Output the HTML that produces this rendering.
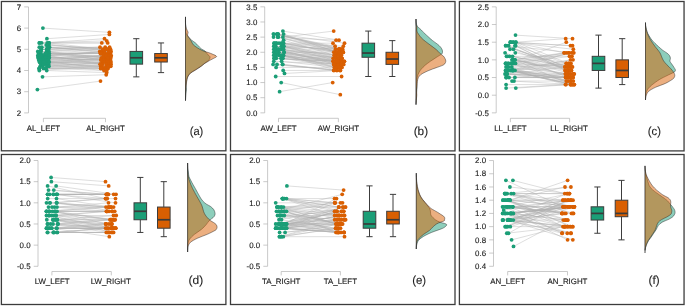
<!DOCTYPE html>
<html><head><meta charset="utf-8"><title>Raincloud plots</title>
<style>html,body{margin:0;padding:0;background:#fff}svg{display:block}svg{filter:opacity(0.9999)}text{text-rendering:geometricPrecision}.t{font-family:"Liberation Sans",sans-serif;font-size:7.9px;fill:#222;stroke:#222;stroke-width:0.13px}.L{font-family:"Liberation Sans",sans-serif;font-size:11.6px;fill:#1e1e1e;stroke:#1e1e1e;stroke-width:0.1px}</style></head><body>
<svg width="685" height="306" viewBox="0 0 685 306">
<rect width="685" height="306" fill="#fff"/>
<rect x="1.4" y="1.5" width="224.5" height="149.3" fill="#fff" stroke="#3c3c3c" stroke-width="1.3"/>
<path d="M28.5 6.9V112.9M24.2 6.9H28.5M24.2 28.1H28.5M24.2 49.3H28.5M24.2 70.5H28.5M24.2 91.7H28.5M24.2 112.9H28.5M43.4 122.2V118.3H105.5V122.2" fill="none" stroke="#adadad" stroke-width="0.65"/>
<text x="21.1" y="9.6" text-anchor="end" class="t">7</text>
<text x="21.1" y="30.8" text-anchor="end" class="t">6</text>
<text x="21.1" y="52" text-anchor="end" class="t">5</text>
<text x="21.1" y="73.2" text-anchor="end" class="t">4</text>
<text x="21.1" y="94.4" text-anchor="end" class="t">3</text>
<text x="21.1" y="115.6" text-anchor="end" class="t">2</text>
<text x="43.4" y="131.15" text-anchor="middle" class="t">AL_LEFT</text>
<text x="105.5" y="131.15" text-anchor="middle" class="t">AL_RIGHT</text>
<text x="189.7" y="134.6" textLength="13.6" lengthAdjust="spacingAndGlyphs" class="L">(a)</text>
<path d="M37.4 89.58L100.5 81.1M42.5 76.86L106.2 74.74M42.9 28.1L109.4 32.34M46.9 38.7L109.4 34.46M46.7 70.5L106.7 72.62M39.3 70.5L102 66.26M43.5 68.38L100.8 68.38M46 68.38L106.7 70.5M39.3 68.38L108.5 66.26M39.3 68.38L102.5 64.14M39.3 68.38L103 68.38M47 66.26L100.8 68.38M42.7 66.26L109.5 62.02M49 66.26L104.5 62.02M40.2 66.26L106 66.26M46 64.14L108.76 66.26M41 64.14L104 70.5M43.5 64.14L110.8 57.78M48.5 64.14L108 68.38M43.49 64.14L106 59.9M39.5 62.02L102.2 62.02M44.19 62.02L101.3 57.78M44.5 62.02L108.5 57.78M47 62.02L111 64.14M42.76 62.02L100.8 66.26M39.5 62.02L111 62.02M49.2 62.02L105.5 68.38M42 62.02L110.8 66.26M38.7 59.9L111.2 55.66M48.5 59.9L103.5 59.9M41 59.9L106.5 64.14M43.5 59.9L107.2 59.9M46 59.9L110.5 55.66M48 57.78L100.3 64.14M45.5 57.78L101 59.9M38 57.78L107.75 57.78M40.5 57.78L108.5 59.9M43 57.78L106.02 55.66M49.3 57.78L105.5 55.66M40.2 55.66L108 55.66M42.6 55.66L109 64.14M45 55.66L104.5 51.42M49.2 55.66L100.3 64.14M37.8 55.66L111.1 51.42M40.77 55.66L107 62.02M47.4 55.66L109.26 51.42M45.87 53.54L100.5 53.54M49.3 53.54L108 53.54M41 53.54L100.5 53.54M38.5 53.54L110.5 59.9M47.5 53.54L103.5 57.78M45 53.54L103.2 55.66M40.3 51.42L107.5 49.3M46.7 51.42L101 59.9M37.8 51.42L103 53.54M49 51.42L104.7 57.78M40.93 51.42L106 57.78M48.6 49.3L107.08 49.3M46.5 49.3L100 47.18M41.3 49.3L105.2 47.18M41.3 49.3L105.5 53.54M49.5 47.18L110.5 53.54M48.07 47.18L106.83 49.3M41.8 47.18L99.8 51.42M39.3 47.18L109.6 47.18M47.6 47.18L101.9 51.42M49 45.06L103.33 49.3M46.2 45.06L110.5 49.3M49.1 42.94L102.8 49.3M39.3 42.94L109 51.42M41.6 42.94L104.5 38.7M39.54 42.94L106.7 40.82M49.1 42.94L101.8 42.94M47.2 42.94L107.7 42.94" fill="none" stroke="#b0b0b0" stroke-width="0.42"/>
<g fill="#1b9e77"><circle cx="42.9" cy="28.1" r="1.9"/><circle cx="46.9" cy="38.7" r="1.9"/><circle cx="39.3" cy="42.94" r="1.9"/><circle cx="41.6" cy="42.94" r="1.9"/><circle cx="47.2" cy="42.94" r="1.9"/><circle cx="49.1" cy="42.94" r="1.9"/><circle cx="46.2" cy="45.06" r="1.9"/><circle cx="49" cy="45.06" r="1.9"/><circle cx="39.3" cy="47.18" r="1.9"/><circle cx="41.8" cy="47.18" r="1.9"/><circle cx="47.6" cy="47.18" r="1.9"/><circle cx="49.5" cy="47.18" r="1.9"/><circle cx="41.3" cy="49.3" r="1.9"/><circle cx="46.5" cy="49.3" r="1.9"/><circle cx="48.6" cy="49.3" r="1.9"/><circle cx="37.8" cy="51.42" r="1.9"/><circle cx="40.3" cy="51.42" r="1.9"/><circle cx="46.7" cy="51.42" r="1.9"/><circle cx="49" cy="51.42" r="1.9"/><circle cx="38.5" cy="53.54" r="1.9"/><circle cx="41" cy="53.54" r="1.9"/><circle cx="45" cy="53.54" r="1.9"/><circle cx="47.5" cy="53.54" r="1.9"/><circle cx="49.3" cy="53.54" r="1.9"/><circle cx="37.8" cy="55.66" r="1.9"/><circle cx="40.2" cy="55.66" r="1.9"/><circle cx="42.6" cy="55.66" r="1.9"/><circle cx="45" cy="55.66" r="1.9"/><circle cx="47.4" cy="55.66" r="1.9"/><circle cx="49.2" cy="55.66" r="1.9"/><circle cx="38" cy="57.78" r="1.9"/><circle cx="40.5" cy="57.78" r="1.9"/><circle cx="43" cy="57.78" r="1.9"/><circle cx="45.5" cy="57.78" r="1.9"/><circle cx="48" cy="57.78" r="1.9"/><circle cx="49.3" cy="57.78" r="1.9"/><circle cx="38.7" cy="59.9" r="1.9"/><circle cx="41" cy="59.9" r="1.9"/><circle cx="43.5" cy="59.9" r="1.9"/><circle cx="46" cy="59.9" r="1.9"/><circle cx="48.5" cy="59.9" r="1.9"/><circle cx="39.5" cy="62.02" r="1.9"/><circle cx="42" cy="62.02" r="1.9"/><circle cx="44.5" cy="62.02" r="1.9"/><circle cx="47" cy="62.02" r="1.9"/><circle cx="49.2" cy="62.02" r="1.9"/><circle cx="41" cy="64.14" r="1.9"/><circle cx="43.5" cy="64.14" r="1.9"/><circle cx="46" cy="64.14" r="1.9"/><circle cx="48.5" cy="64.14" r="1.9"/><circle cx="40.2" cy="66.26" r="1.9"/><circle cx="42.7" cy="66.26" r="1.9"/><circle cx="47" cy="66.26" r="1.9"/><circle cx="49" cy="66.26" r="1.9"/><circle cx="39.3" cy="68.38" r="1.9"/><circle cx="43.5" cy="68.38" r="1.9"/><circle cx="46" cy="68.38" r="1.9"/><circle cx="39.3" cy="70.5" r="1.9"/><circle cx="46.7" cy="70.5" r="1.9"/><circle cx="42.5" cy="76.86" r="1.9"/><circle cx="37.4" cy="89.58" r="1.9"/><circle cx="42.76" cy="62.02" r="1.9"/><circle cx="41.3" cy="49.3" r="1.9"/><circle cx="39.5" cy="62.02" r="1.9"/><circle cx="39.54" cy="42.94" r="1.9"/><circle cx="45.87" cy="53.54" r="1.9"/><circle cx="43.49" cy="64.14" r="1.9"/><circle cx="39.3" cy="68.38" r="1.9"/><circle cx="44.19" cy="62.02" r="1.9"/><circle cx="40.77" cy="55.66" r="1.9"/><circle cx="49.1" cy="42.94" r="1.9"/><circle cx="48.07" cy="47.18" r="1.9"/><circle cx="40.93" cy="51.42" r="1.9"/><circle cx="39.3" cy="68.38" r="1.9"/></g>
<g fill="#d95f02"><circle cx="109.4" cy="32.34" r="1.9"/><circle cx="109.4" cy="34.46" r="1.9"/><circle cx="104.5" cy="38.7" r="1.9"/><circle cx="106.7" cy="40.82" r="1.9"/><circle cx="101.8" cy="42.94" r="1.9"/><circle cx="107.7" cy="42.94" r="1.9"/><circle cx="100" cy="47.18" r="1.9"/><circle cx="105.2" cy="47.18" r="1.9"/><circle cx="109.6" cy="47.18" r="1.9"/><circle cx="102.8" cy="49.3" r="1.9"/><circle cx="107.5" cy="49.3" r="1.9"/><circle cx="110.5" cy="49.3" r="1.9"/><circle cx="99.8" cy="51.42" r="1.9"/><circle cx="101.9" cy="51.42" r="1.9"/><circle cx="104.5" cy="51.42" r="1.9"/><circle cx="109" cy="51.42" r="1.9"/><circle cx="111.1" cy="51.42" r="1.9"/><circle cx="100.5" cy="53.54" r="1.9"/><circle cx="103" cy="53.54" r="1.9"/><circle cx="105.5" cy="53.54" r="1.9"/><circle cx="108" cy="53.54" r="1.9"/><circle cx="110.5" cy="53.54" r="1.9"/><circle cx="103.2" cy="55.66" r="1.9"/><circle cx="105.5" cy="55.66" r="1.9"/><circle cx="108" cy="55.66" r="1.9"/><circle cx="110.5" cy="55.66" r="1.9"/><circle cx="111.2" cy="55.66" r="1.9"/><circle cx="101.3" cy="57.78" r="1.9"/><circle cx="103.5" cy="57.78" r="1.9"/><circle cx="106" cy="57.78" r="1.9"/><circle cx="108.5" cy="57.78" r="1.9"/><circle cx="110.8" cy="57.78" r="1.9"/><circle cx="104.7" cy="57.78" r="1.9"/><circle cx="101" cy="59.9" r="1.9"/><circle cx="103.5" cy="59.9" r="1.9"/><circle cx="106" cy="59.9" r="1.9"/><circle cx="108.5" cy="59.9" r="1.9"/><circle cx="110.5" cy="59.9" r="1.9"/><circle cx="107.2" cy="59.9" r="1.9"/><circle cx="102.2" cy="62.02" r="1.9"/><circle cx="104.5" cy="62.02" r="1.9"/><circle cx="107" cy="62.02" r="1.9"/><circle cx="109.5" cy="62.02" r="1.9"/><circle cx="111" cy="62.02" r="1.9"/><circle cx="100.3" cy="64.14" r="1.9"/><circle cx="102.5" cy="64.14" r="1.9"/><circle cx="106.5" cy="64.14" r="1.9"/><circle cx="109" cy="64.14" r="1.9"/><circle cx="111" cy="64.14" r="1.9"/><circle cx="100.8" cy="66.26" r="1.9"/><circle cx="102" cy="66.26" r="1.9"/><circle cx="106" cy="66.26" r="1.9"/><circle cx="108.5" cy="66.26" r="1.9"/><circle cx="110.8" cy="66.26" r="1.9"/><circle cx="100.8" cy="68.38" r="1.9"/><circle cx="103" cy="68.38" r="1.9"/><circle cx="105.5" cy="68.38" r="1.9"/><circle cx="108" cy="68.38" r="1.9"/><circle cx="104" cy="70.5" r="1.9"/><circle cx="106.7" cy="70.5" r="1.9"/><circle cx="106.7" cy="72.62" r="1.9"/><circle cx="106.2" cy="74.74" r="1.9"/><circle cx="100.5" cy="81.1" r="1.9"/><circle cx="103.33" cy="49.3" r="1.9"/><circle cx="100.8" cy="68.38" r="1.9"/><circle cx="106.02" cy="55.66" r="1.9"/><circle cx="107.75" cy="57.78" r="1.9"/><circle cx="109.26" cy="51.42" r="1.9"/><circle cx="107.08" cy="49.3" r="1.9"/><circle cx="100.3" cy="64.14" r="1.9"/><circle cx="101" cy="59.9" r="1.9"/><circle cx="106.83" cy="49.3" r="1.9"/><circle cx="108.76" cy="66.26" r="1.9"/><circle cx="100.5" cy="53.54" r="1.9"/></g>
<path d="M136.3 38.7V51.42M136.3 64.14V76.86M133.2 38.7H139.4M133.2 76.86H139.4" fill="none" stroke="#3c3c3c" stroke-width="1"/>
<rect x="130" y="51.42" width="12.6" height="12.72" fill="#1b9e77" stroke="#3c3c3c" stroke-width="1"/>
<path d="M130 57.78H142.6" stroke="#3a3a3a" stroke-width="1.7" fill="none"/>
<path d="M161 42.94V53.54M161 62.02V72.62M157.9 42.94H164.1M157.9 72.62H164.1" fill="none" stroke="#3c3c3c" stroke-width="1"/>
<rect x="154.7" y="53.54" width="12.6" height="8.48" fill="#d95f02" stroke="#3c3c3c" stroke-width="1"/>
<path d="M154.7 57.78H167.3" stroke="#3a3a3a" stroke-width="1.7" fill="none"/>
<path d="M185.5 16.9C185.52 18.08 185.52 22.15 185.6 24C185.68 25.85 185.97 26.83 186 28C186.03 29.17 185.73 30 185.8 31C185.87 32 185.97 33.02 186.4 34C186.83 34.98 187.58 35.92 188.4 36.9C189.22 37.88 190.15 38.92 191.3 39.9C192.45 40.88 194.15 41.83 195.3 42.8C196.45 43.77 197.23 44.72 198.2 45.7C199.17 46.68 199.95 47.8 201.1 48.7C202.25 49.6 204.13 50.28 205.1 51.1C206.07 51.92 206.25 52.87 206.9 53.6C207.55 54.33 208.47 54.93 209 55.5C209.53 56.07 210 56.45 210.1 57C210.2 57.55 209.87 58.22 209.6 58.8C209.33 59.38 209.27 59.8 208.5 60.5C207.73 61.2 206.28 62.03 205 63C203.72 63.97 202.47 65.13 200.8 66.3C199.13 67.47 196.73 68.9 195 70C193.27 71.1 191.57 71.9 190.4 72.9C189.23 73.9 188.6 74.92 188 76C187.4 77.08 187.12 77.9 186.8 79.4C186.48 80.9 186.17 83.32 186.1 85C186.03 86.68 186.43 88 186.4 89.5C186.37 91 186.05 92.15 185.9 94C185.75 95.85 185.57 99.5 185.5 100.6L185.5 16.9Z" fill="#1b9e77" fill-opacity="0.5" stroke="#222" stroke-width="0.5" stroke-opacity="0.9"/>
<path d="M185.5 16.9C185.5 18.08 185.37 22.07 185.5 24C185.63 25.93 185.87 27.13 186.3 28.5C186.73 29.87 187.9 31.12 188.1 32.2C188.3 33.28 187.43 34.2 187.5 35C187.57 35.8 188.1 36.35 188.5 37C188.9 37.65 189.38 38.1 189.9 38.9C190.42 39.7 191.03 40.82 191.6 41.8C192.17 42.78 192.37 43.82 193.3 44.8C194.23 45.78 195.82 46.8 197.2 47.7C198.58 48.6 200.28 49.55 201.6 50.2C202.92 50.85 203.95 51.2 205.1 51.6C206.25 52 207.28 52.18 208.5 52.6C209.72 53.02 211.05 53.47 212.4 54.1C213.75 54.73 216.43 55.67 216.6 56.4C216.77 57.13 214.42 57.9 213.4 58.5C212.38 59.1 211.4 59.5 210.5 60C209.6 60.5 208.98 60.92 208 61.5C207.02 62.08 205.73 62.7 204.6 63.5C203.47 64.3 202.7 65.22 201.2 66.3C199.7 67.38 197.32 68.9 195.6 70C193.88 71.1 192.13 71.9 190.9 72.9C189.67 73.9 188.87 74.82 188.2 76C187.53 77.18 187.2 78.67 186.9 80C186.6 81.33 186.58 82.33 186.4 84C186.22 85.67 185.95 87.23 185.8 90C185.65 92.77 185.55 98.83 185.5 100.6L185.5 16.9Z" fill="#d95f02" fill-opacity="0.5" stroke="#222" stroke-width="0.5" stroke-opacity="0.9"/>
<rect x="230.5" y="1.5" width="224.5" height="149.4" fill="#fff" stroke="#3c3c3c" stroke-width="1.3"/>
<path d="M264.7 6.83V112.85M260.4 6.83H264.7M260.4 21.98H264.7M260.4 37.12H264.7M260.4 52.27H264.7M260.4 67.41H264.7M260.4 82.56H264.7M260.4 97.7H264.7M260.4 112.85H264.7M278.5 122.2V118.3H338.4V122.2" fill="none" stroke="#adadad" stroke-width="0.65"/>
<text x="257.3" y="9.53" text-anchor="end" class="t">3.5</text>
<text x="257.3" y="24.68" text-anchor="end" class="t">3.0</text>
<text x="257.3" y="39.83" text-anchor="end" class="t">2.5</text>
<text x="257.3" y="54.97" text-anchor="end" class="t">2.0</text>
<text x="257.3" y="70.11" text-anchor="end" class="t">1.5</text>
<text x="257.3" y="85.26" text-anchor="end" class="t">1.0</text>
<text x="257.3" y="100.41" text-anchor="end" class="t">0.5</text>
<text x="257.3" y="115.55" text-anchor="end" class="t">0.0</text>
<text x="278.5" y="131.15" text-anchor="middle" class="t">AW_LEFT</text>
<text x="338.4" y="131.15" text-anchor="middle" class="t">AW_RIGHT</text>
<text x="413.7" y="134.6" textLength="14.4" lengthAdjust="spacingAndGlyphs" class="L">(b)</text>
<path d="M279.6 91.65L332.7 82.56M281.2 82.56L340.3 94.68M275.7 76.5L341.6 76.5M282.9 37.12L333.7 31.07M284.5 73.47L339.85 70.44M283.2 70.44L333.8 70.44M276.1 67.41L339.34 67.41M282.53 64.39L340.3 70.44M282.7 64.39L333.8 70.44M273.1 64.39L340.3 70.44M277 64.39L337 70.44M273.8 61.36L341.44 64.39M281.6 61.36L336.8 67.41M274 58.33L335.5 61.36M281 58.33L338.5 64.39M274.24 58.33L333.2 61.36M276.3 58.33L338 61.36M283 58.33L339.3 67.41M278.8 55.3L342 67.41M276.3 55.3L333.2 61.36M280.8 55.3L335.66 61.36M281.3 55.3L341 64.39M274.56 55.3L333.8 64.39M273.8 55.3L344.3 61.36M283.6 55.3L333.2 58.33M283.06 55.3L334.3 67.41M274.28 55.3L333.8 64.39M278.6 52.27L336.3 67.41M278.36 52.27L337.54 61.36M276.7 52.27L338.78 61.36M276.3 52.27L336.65 70.44M284 52.27L342.8 61.36M284 52.27L338.2 58.33M278.67 52.27L343.07 52.27M273.8 52.27L340.5 61.36M276.94 52.27L342 58.33M273.8 49.24L337.83 64.39M278.8 49.24L340.7 58.33M275.54 49.24L338.89 58.33M276.3 49.24L343.7 64.39M278.07 49.24L336 64.39M276.22 49.24L341.4 55.3M283.6 49.24L344.3 61.36M281.3 49.24L336.8 55.3M275.8 46.21L334.3 55.3M283.6 46.21L335.7 58.33M283.53 46.21L337.96 61.36M274.47 46.21L339.5 49.24M274.42 46.21L342 58.33M273.8 46.21L339.5 52.27M283.6 46.21L338.8 49.24M281.3 46.21L339.3 55.3M282.22 43.18L342.05 49.24M274.3 43.18L333 43.18M276.5 43.18L341.58 58.33M274 43.18L343.19 52.27M281.5 43.18L342.7 52.27M283.6 43.18L333.8 52.27M276.1 43.18L343.3 46.21M279 43.18L343.2 52.27M283.6 40.15L334.38 55.3M273.5 37.12L336.1 40.15M277.66 37.12L342 52.27M277.95 37.12L336.3 52.27M278.3 37.12L339.04 49.24M283.6 34.1L337.05 52.27M277.63 34.1L344.5 43.18M277.4 34.1L339.34 49.24M277.74 34.1L339.26 52.27M278.24 34.1L342.6 49.24M273.5 34.1L335.1 46.21M273.5 34.1L341 49.24M276.58 34.1L335.5 49.24M282.9 31.07L339 40.15" fill="none" stroke="#b0b0b0" stroke-width="0.42"/>
<g fill="#1b9e77"><circle cx="279.6" cy="91.65" r="1.9"/><circle cx="281.2" cy="82.56" r="1.9"/><circle cx="275.7" cy="76.5" r="1.9"/><circle cx="284.5" cy="73.47" r="1.9"/><circle cx="283.2" cy="70.44" r="1.9"/><circle cx="276.1" cy="67.41" r="1.9"/><circle cx="273.1" cy="64.39" r="1.9"/><circle cx="277" cy="64.39" r="1.9"/><circle cx="282.7" cy="64.39" r="1.9"/><circle cx="273.8" cy="61.36" r="1.9"/><circle cx="281.6" cy="61.36" r="1.9"/><circle cx="274" cy="58.33" r="1.9"/><circle cx="276.3" cy="58.33" r="1.9"/><circle cx="281" cy="58.33" r="1.9"/><circle cx="283" cy="58.33" r="1.9"/><circle cx="273.8" cy="55.3" r="1.9"/><circle cx="276.3" cy="55.3" r="1.9"/><circle cx="278.8" cy="55.3" r="1.9"/><circle cx="281.3" cy="55.3" r="1.9"/><circle cx="283.6" cy="55.3" r="1.9"/><circle cx="273.8" cy="52.27" r="1.9"/><circle cx="276.3" cy="52.27" r="1.9"/><circle cx="278.6" cy="52.27" r="1.9"/><circle cx="284" cy="52.27" r="1.9"/><circle cx="273.8" cy="49.24" r="1.9"/><circle cx="276.3" cy="49.24" r="1.9"/><circle cx="278.8" cy="49.24" r="1.9"/><circle cx="281.3" cy="49.24" r="1.9"/><circle cx="283.6" cy="49.24" r="1.9"/><circle cx="273.8" cy="46.21" r="1.9"/><circle cx="275.8" cy="46.21" r="1.9"/><circle cx="281.3" cy="46.21" r="1.9"/><circle cx="283.6" cy="46.21" r="1.9"/><circle cx="274" cy="43.18" r="1.9"/><circle cx="276.5" cy="43.18" r="1.9"/><circle cx="279" cy="43.18" r="1.9"/><circle cx="281.5" cy="43.18" r="1.9"/><circle cx="283.6" cy="43.18" r="1.9"/><circle cx="283.6" cy="40.15" r="1.9"/><circle cx="273.5" cy="37.12" r="1.9"/><circle cx="278.3" cy="37.12" r="1.9"/><circle cx="282.9" cy="37.12" r="1.9"/><circle cx="273.5" cy="34.1" r="1.9"/><circle cx="277.4" cy="34.1" r="1.9"/><circle cx="283.6" cy="34.1" r="1.9"/><circle cx="282.9" cy="31.07" r="1.9"/><circle cx="276.1" cy="43.18" r="1.9"/><circle cx="282.53" cy="64.39" r="1.9"/><circle cx="276.22" cy="49.24" r="1.9"/><circle cx="278.24" cy="34.1" r="1.9"/><circle cx="277.66" cy="37.12" r="1.9"/><circle cx="274.47" cy="46.21" r="1.9"/><circle cx="278.36" cy="52.27" r="1.9"/><circle cx="275.54" cy="49.24" r="1.9"/><circle cx="283.06" cy="55.3" r="1.9"/><circle cx="277.63" cy="34.1" r="1.9"/><circle cx="276.58" cy="34.1" r="1.9"/><circle cx="278.67" cy="52.27" r="1.9"/><circle cx="277.95" cy="37.12" r="1.9"/><circle cx="278.07" cy="49.24" r="1.9"/><circle cx="280.8" cy="55.3" r="1.9"/><circle cx="277.74" cy="34.1" r="1.9"/><circle cx="273.5" cy="34.1" r="1.9"/><circle cx="274.28" cy="55.3" r="1.9"/><circle cx="276.7" cy="52.27" r="1.9"/><circle cx="274.42" cy="46.21" r="1.9"/><circle cx="274.24" cy="58.33" r="1.9"/><circle cx="274.56" cy="55.3" r="1.9"/><circle cx="282.22" cy="43.18" r="1.9"/><circle cx="276.94" cy="52.27" r="1.9"/><circle cx="283.6" cy="46.21" r="1.9"/><circle cx="283.53" cy="46.21" r="1.9"/><circle cx="274.3" cy="43.18" r="1.9"/><circle cx="284" cy="52.27" r="1.9"/></g>
<g fill="#d95f02"><circle cx="333.7" cy="31.07" r="1.9"/><circle cx="336.1" cy="40.15" r="1.9"/><circle cx="339" cy="40.15" r="1.9"/><circle cx="333" cy="43.18" r="1.9"/><circle cx="344.5" cy="43.18" r="1.9"/><circle cx="335.1" cy="46.21" r="1.9"/><circle cx="343.3" cy="46.21" r="1.9"/><circle cx="335.5" cy="49.24" r="1.9"/><circle cx="339.5" cy="49.24" r="1.9"/><circle cx="341" cy="49.24" r="1.9"/><circle cx="342.6" cy="49.24" r="1.9"/><circle cx="333.8" cy="52.27" r="1.9"/><circle cx="336.3" cy="52.27" r="1.9"/><circle cx="339.5" cy="52.27" r="1.9"/><circle cx="342" cy="52.27" r="1.9"/><circle cx="343.2" cy="52.27" r="1.9"/><circle cx="334.3" cy="55.3" r="1.9"/><circle cx="336.8" cy="55.3" r="1.9"/><circle cx="339.3" cy="55.3" r="1.9"/><circle cx="341.4" cy="55.3" r="1.9"/><circle cx="333.2" cy="58.33" r="1.9"/><circle cx="335.7" cy="58.33" r="1.9"/><circle cx="338.2" cy="58.33" r="1.9"/><circle cx="340.7" cy="58.33" r="1.9"/><circle cx="342" cy="58.33" r="1.9"/><circle cx="333.2" cy="61.36" r="1.9"/><circle cx="335.5" cy="61.36" r="1.9"/><circle cx="338" cy="61.36" r="1.9"/><circle cx="340.5" cy="61.36" r="1.9"/><circle cx="342.8" cy="61.36" r="1.9"/><circle cx="344.3" cy="61.36" r="1.9"/><circle cx="333.8" cy="64.39" r="1.9"/><circle cx="336" cy="64.39" r="1.9"/><circle cx="338.5" cy="64.39" r="1.9"/><circle cx="341" cy="64.39" r="1.9"/><circle cx="343.7" cy="64.39" r="1.9"/><circle cx="334.3" cy="67.41" r="1.9"/><circle cx="336.8" cy="67.41" r="1.9"/><circle cx="339.3" cy="67.41" r="1.9"/><circle cx="342" cy="67.41" r="1.9"/><circle cx="333.8" cy="70.44" r="1.9"/><circle cx="337" cy="70.44" r="1.9"/><circle cx="340.3" cy="70.44" r="1.9"/><circle cx="341.6" cy="76.5" r="1.9"/><circle cx="332.7" cy="82.56" r="1.9"/><circle cx="340.3" cy="94.68" r="1.9"/><circle cx="337.83" cy="64.39" r="1.9"/><circle cx="338.78" cy="61.36" r="1.9"/><circle cx="336.3" cy="67.41" r="1.9"/><circle cx="334.38" cy="55.3" r="1.9"/><circle cx="337.05" cy="52.27" r="1.9"/><circle cx="340.3" cy="70.44" r="1.9"/><circle cx="343.19" cy="52.27" r="1.9"/><circle cx="337.54" cy="61.36" r="1.9"/><circle cx="342.05" cy="49.24" r="1.9"/><circle cx="338.89" cy="58.33" r="1.9"/><circle cx="344.3" cy="61.36" r="1.9"/><circle cx="337.96" cy="61.36" r="1.9"/><circle cx="338.8" cy="49.24" r="1.9"/><circle cx="343.07" cy="52.27" r="1.9"/><circle cx="342" cy="58.33" r="1.9"/><circle cx="341.44" cy="64.39" r="1.9"/><circle cx="339.34" cy="67.41" r="1.9"/><circle cx="339.34" cy="49.24" r="1.9"/><circle cx="333.2" cy="61.36" r="1.9"/><circle cx="339.04" cy="49.24" r="1.9"/><circle cx="333.8" cy="70.44" r="1.9"/><circle cx="341.58" cy="58.33" r="1.9"/><circle cx="336.65" cy="70.44" r="1.9"/><circle cx="339.85" cy="70.44" r="1.9"/><circle cx="335.66" cy="61.36" r="1.9"/><circle cx="339.26" cy="52.27" r="1.9"/><circle cx="342.7" cy="52.27" r="1.9"/><circle cx="333.8" cy="64.39" r="1.9"/></g>
<path d="M368.3 31.07V43.18M368.3 57.27V76.5M365.2 31.07H371.4M365.2 76.5H371.4" fill="none" stroke="#3c3c3c" stroke-width="1"/>
<rect x="362" y="43.18" width="12.6" height="14.08" fill="#1b9e77" stroke="#3c3c3c" stroke-width="1"/>
<path d="M362 53.03H374.6" stroke="#3a3a3a" stroke-width="1.7" fill="none"/>
<path d="M392.3 40.61V52.27M392.3 64.39V76.5M389.2 40.61H395.4M389.2 76.5H395.4" fill="none" stroke="#3c3c3c" stroke-width="1"/>
<rect x="386" y="52.27" width="12.6" height="12.12" fill="#d95f02" stroke="#3c3c3c" stroke-width="1"/>
<path d="M386 59.02H398.6" stroke="#3a3a3a" stroke-width="1.7" fill="none"/>
<path d="M416 19C416.05 19.67 416.07 21.78 416.3 23C416.53 24.22 416.57 25.13 417.4 26.3C418.23 27.47 420.27 28.97 421.3 30C422.33 31.03 422.73 31.63 423.6 32.5C424.47 33.37 425.53 34.32 426.5 35.2C427.47 36.08 428.43 36.93 429.4 37.8C430.37 38.67 430.93 39.32 432.3 40.4C433.67 41.48 436.25 43.22 437.6 44.3C438.95 45.38 439.65 46.02 440.4 46.9C441.15 47.78 441.75 48.72 442.1 49.6C442.45 50.48 442.6 51.45 442.5 52.2C442.4 52.95 442.53 53.23 441.5 54.1C440.47 54.97 438.15 56.2 436.3 57.4C434.45 58.6 432.25 60 430.4 61.3C428.55 62.6 426.72 63.9 425.2 65.2C423.68 66.5 422.35 67.85 421.3 69.1C420.25 70.35 419.57 71.38 418.9 72.7C418.23 74.02 417.65 75.45 417.3 77C416.95 78.55 416.87 80.17 416.8 82C416.73 83.83 416.95 86.17 416.9 88C416.85 89.83 416.6 91.17 416.5 93C416.4 94.83 416.38 97.07 416.3 99C416.22 100.93 416.05 103.67 416 104.6L416 19Z" fill="#1b9e77" fill-opacity="0.5" stroke="#222" stroke-width="0.5" stroke-opacity="0.9"/>
<path d="M416 19C416 19.75 415.95 22.42 416 23.5C416.05 24.58 416.13 24.83 416.3 25.5C416.47 26.17 416.92 26.75 417 27.5C417.08 28.25 416.77 29.28 416.8 30C416.83 30.72 417 31.25 417.2 31.8C417.4 32.35 417.32 32.3 418 33.3C418.68 34.3 420 36.4 421.3 37.8C422.6 39.2 424.18 40.4 425.8 41.7C427.42 43 429.25 44.28 431 45.6C432.75 46.92 434.88 48.4 436.3 49.6C437.72 50.8 438.72 52.02 439.5 52.8C440.28 53.58 440.35 53.75 441 54.3C441.65 54.85 442.72 55.37 443.4 56.1C444.08 56.83 444.7 57.83 445.1 58.7C445.5 59.57 445.87 60.43 445.8 61.3C445.73 62.17 445.33 63.18 444.7 63.9C444.07 64.62 443.18 65.05 442 65.6C440.82 66.15 439.18 66.63 437.6 67.2C436.02 67.77 434.1 68.4 432.5 69C430.9 69.6 429.42 70.18 428 70.8C426.58 71.42 425.23 72.03 424 72.7C422.77 73.37 421.53 74 420.6 74.8C419.67 75.6 418.93 76.43 418.4 77.5C417.87 78.57 417.63 79.78 417.4 81.2C417.17 82.62 417.15 84.53 417 86C416.85 87.47 416.53 88.5 416.5 90C416.47 91.5 416.82 93.5 416.8 95C416.78 96.5 416.53 97.4 416.4 99C416.27 100.6 416.07 103.67 416 104.6L416 19Z" fill="#d95f02" fill-opacity="0.5" stroke="#222" stroke-width="0.5" stroke-opacity="0.9"/>
<rect x="459.4" y="1.5" width="224.65" height="149.4" fill="#fff" stroke="#3c3c3c" stroke-width="1.3"/>
<path d="M496.2 6.86V112.85M491.9 6.86H496.2M491.9 24.53H496.2M491.9 42.19H496.2M491.9 59.85H496.2M491.9 77.52H496.2M491.9 95.19H496.2M491.9 112.85H496.2M510.4 122.2V118.3H569.6V122.2" fill="none" stroke="#adadad" stroke-width="0.65"/>
<text x="488.8" y="9.56" text-anchor="end" class="t">2.5</text>
<text x="488.8" y="27.23" text-anchor="end" class="t">2.0</text>
<text x="488.8" y="44.89" text-anchor="end" class="t">1.5</text>
<text x="488.8" y="62.55" text-anchor="end" class="t">1.0</text>
<text x="488.8" y="80.22" text-anchor="end" class="t">0.5</text>
<text x="488.8" y="97.89" text-anchor="end" class="t">0.0</text>
<text x="488.8" y="115.55" text-anchor="end" class="t">-0.5</text>
<text x="510.4" y="131.15" text-anchor="middle" class="t">LL_LEFT</text>
<text x="569" y="131.15" text-anchor="middle" class="t">LL_RIGHT</text>
<text x="647.8" y="134.6" textLength="13.2" lengthAdjust="spacingAndGlyphs" class="L">(c)</text>
<path d="M515.5 35.12L572.5 38.66M506.1 88.12L565.4 84.59M515.8 88.12L570.7 84.59M515.8 42.19L565.7 38.66M506.1 84.59L573.43 84.59M514 81.05L573.3 81.05M512 81.05L574.3 84.59M506.1 77.52L573 77.52M514.9 77.52L566.02 77.52M506.26 77.52L568.74 73.99M509 77.52L565.5 77.52M507 73.99L571.36 77.52M505 73.99L567.31 73.99M506 73.99L570.63 77.52M506.86 73.99L568 77.52M507 73.99L567.8 66.92M506.8 73.99L567.05 81.05M512.35 70.45L571.09 77.52M512.69 70.45L571.2 81.05M511.22 70.45L570.5 77.52M505.85 70.45L573 77.52M513.42 70.45L566.01 84.59M512.96 70.45L570 66.92M510.5 70.45L571.02 84.59M513.34 70.45L572.17 84.59M508.8 70.45L574.3 84.59M507.35 70.45L572.5 84.59M505.5 70.45L573 59.85M508 70.45L565.5 73.99M515 70.45L569 63.39M510.08 70.45L570.38 81.05M511.8 70.45L568.58 52.79M513 70.45L570.5 59.85M507.3 66.92L573.8 52.79M508.5 66.92L570.5 73.99M506 66.92L566.2 81.05M511.8 66.92L571 63.39M510.5 63.39L568 73.99M508 63.39L572 56.32M513.5 63.39L573.01 52.79M511.22 63.39L568.7 81.05M515.5 63.39L565 66.92M505.5 63.39L565.5 73.99M508.33 63.39L566.3 42.19M506.15 63.39L572.5 66.92M505.61 63.39L566.5 52.79M512 59.85L565 70.45M515 59.85L573.45 73.99M513.11 59.85L570.3 70.45M512.43 59.85L565 66.92M513.72 59.85L569 52.79M513.3 59.85L564.2 52.79M515 59.85L570.38 84.59M507.33 56.32L569.5 56.32M512.5 56.32L571.7 66.92M506.5 56.32L570.88 77.52M509.5 56.32L567.8 66.92M505.1 52.79L568.18 77.52M515.3 52.79L566.3 63.39M510 49.26L570 70.45M513.5 49.26L569.74 66.92M515.34 45.72L573 73.99M505.7 45.72L571.5 70.45M515.5 45.72L566.3 63.39M515.1 45.72L567.5 70.45M508.3 45.72L574.3 73.99M505.7 45.72L567.5 66.92M508.62 45.72L571.5 52.79M513.28 42.19L571.22 70.45M515.8 42.19L568.36 63.39M510.5 42.19L572.5 45.72M510.5 42.19L570.5 45.72M513 42.19L564.2 52.79M510.5 42.19L573.3 49.26" fill="none" stroke="#b0b0b0" stroke-width="0.42"/>
<g fill="#1b9e77"><circle cx="515.5" cy="35.12" r="1.9"/><circle cx="510.5" cy="42.19" r="1.9"/><circle cx="513" cy="42.19" r="1.9"/><circle cx="515.8" cy="42.19" r="1.9"/><circle cx="505.7" cy="45.72" r="1.9"/><circle cx="508.3" cy="45.72" r="1.9"/><circle cx="515.5" cy="45.72" r="1.9"/><circle cx="510" cy="49.26" r="1.9"/><circle cx="513.5" cy="49.26" r="1.9"/><circle cx="505.1" cy="52.79" r="1.9"/><circle cx="515.3" cy="52.79" r="1.9"/><circle cx="506.5" cy="56.32" r="1.9"/><circle cx="509.5" cy="56.32" r="1.9"/><circle cx="512.5" cy="56.32" r="1.9"/><circle cx="512" cy="59.85" r="1.9"/><circle cx="515" cy="59.85" r="1.9"/><circle cx="513.3" cy="59.85" r="1.9"/><circle cx="505.5" cy="63.39" r="1.9"/><circle cx="508" cy="63.39" r="1.9"/><circle cx="510.5" cy="63.39" r="1.9"/><circle cx="513.5" cy="63.39" r="1.9"/><circle cx="515.5" cy="63.39" r="1.9"/><circle cx="506" cy="66.92" r="1.9"/><circle cx="508.5" cy="66.92" r="1.9"/><circle cx="511.8" cy="66.92" r="1.9"/><circle cx="507.3" cy="66.92" r="1.9"/><circle cx="505.5" cy="70.45" r="1.9"/><circle cx="508" cy="70.45" r="1.9"/><circle cx="510.5" cy="70.45" r="1.9"/><circle cx="513" cy="70.45" r="1.9"/><circle cx="515" cy="70.45" r="1.9"/><circle cx="511.8" cy="70.45" r="1.9"/><circle cx="505" cy="73.99" r="1.9"/><circle cx="507" cy="73.99" r="1.9"/><circle cx="506" cy="73.99" r="1.9"/><circle cx="506.1" cy="77.52" r="1.9"/><circle cx="509" cy="77.52" r="1.9"/><circle cx="514.9" cy="77.52" r="1.9"/><circle cx="512" cy="81.05" r="1.9"/><circle cx="514" cy="81.05" r="1.9"/><circle cx="506.1" cy="84.59" r="1.9"/><circle cx="506.1" cy="88.12" r="1.9"/><circle cx="515.8" cy="88.12" r="1.9"/><circle cx="506.15" cy="63.39" r="1.9"/><circle cx="512.96" cy="70.45" r="1.9"/><circle cx="513.11" cy="59.85" r="1.9"/><circle cx="512.43" cy="59.85" r="1.9"/><circle cx="505.7" cy="45.72" r="1.9"/><circle cx="507.35" cy="70.45" r="1.9"/><circle cx="508.62" cy="45.72" r="1.9"/><circle cx="512.35" cy="70.45" r="1.9"/><circle cx="510.5" cy="42.19" r="1.9"/><circle cx="513.34" cy="70.45" r="1.9"/><circle cx="507.33" cy="56.32" r="1.9"/><circle cx="513.72" cy="59.85" r="1.9"/><circle cx="508.8" cy="70.45" r="1.9"/><circle cx="512.69" cy="70.45" r="1.9"/><circle cx="508.33" cy="63.39" r="1.9"/><circle cx="510.08" cy="70.45" r="1.9"/><circle cx="510.5" cy="42.19" r="1.9"/><circle cx="505.61" cy="63.39" r="1.9"/><circle cx="506.26" cy="77.52" r="1.9"/><circle cx="506.86" cy="73.99" r="1.9"/><circle cx="511.22" cy="70.45" r="1.9"/><circle cx="507" cy="73.99" r="1.9"/><circle cx="515.8" cy="42.19" r="1.9"/><circle cx="515.1" cy="45.72" r="1.9"/><circle cx="505.85" cy="70.45" r="1.9"/><circle cx="513.42" cy="70.45" r="1.9"/><circle cx="511.22" cy="63.39" r="1.9"/><circle cx="506.8" cy="73.99" r="1.9"/><circle cx="515.34" cy="45.72" r="1.9"/><circle cx="513.28" cy="42.19" r="1.9"/><circle cx="515" cy="59.85" r="1.9"/></g>
<g fill="#d95f02"><circle cx="565.7" cy="38.66" r="1.9"/><circle cx="572.5" cy="38.66" r="1.9"/><circle cx="566.3" cy="42.19" r="1.9"/><circle cx="570.5" cy="45.72" r="1.9"/><circle cx="572.5" cy="45.72" r="1.9"/><circle cx="573.3" cy="49.26" r="1.9"/><circle cx="564.2" cy="52.79" r="1.9"/><circle cx="566.5" cy="52.79" r="1.9"/><circle cx="569" cy="52.79" r="1.9"/><circle cx="571.5" cy="52.79" r="1.9"/><circle cx="573.8" cy="52.79" r="1.9"/><circle cx="569.5" cy="56.32" r="1.9"/><circle cx="572" cy="56.32" r="1.9"/><circle cx="570.5" cy="59.85" r="1.9"/><circle cx="573" cy="59.85" r="1.9"/><circle cx="566.3" cy="63.39" r="1.9"/><circle cx="569" cy="63.39" r="1.9"/><circle cx="571" cy="63.39" r="1.9"/><circle cx="565" cy="66.92" r="1.9"/><circle cx="567.5" cy="66.92" r="1.9"/><circle cx="570" cy="66.92" r="1.9"/><circle cx="572.5" cy="66.92" r="1.9"/><circle cx="565" cy="70.45" r="1.9"/><circle cx="567.5" cy="70.45" r="1.9"/><circle cx="570" cy="70.45" r="1.9"/><circle cx="571.5" cy="70.45" r="1.9"/><circle cx="565.5" cy="73.99" r="1.9"/><circle cx="568" cy="73.99" r="1.9"/><circle cx="570.5" cy="73.99" r="1.9"/><circle cx="573" cy="73.99" r="1.9"/><circle cx="574.3" cy="73.99" r="1.9"/><circle cx="565.5" cy="77.52" r="1.9"/><circle cx="568" cy="77.52" r="1.9"/><circle cx="570.5" cy="77.52" r="1.9"/><circle cx="573" cy="77.52" r="1.9"/><circle cx="566.2" cy="81.05" r="1.9"/><circle cx="568.7" cy="81.05" r="1.9"/><circle cx="571.2" cy="81.05" r="1.9"/><circle cx="573.3" cy="81.05" r="1.9"/><circle cx="565.4" cy="84.59" r="1.9"/><circle cx="570.7" cy="84.59" r="1.9"/><circle cx="572.5" cy="84.59" r="1.9"/><circle cx="574.3" cy="84.59" r="1.9"/><circle cx="565" cy="66.92" r="1.9"/><circle cx="571.22" cy="70.45" r="1.9"/><circle cx="566.3" cy="63.39" r="1.9"/><circle cx="565.5" cy="73.99" r="1.9"/><circle cx="573.45" cy="73.99" r="1.9"/><circle cx="567.8" cy="66.92" r="1.9"/><circle cx="573.43" cy="84.59" r="1.9"/><circle cx="568.36" cy="63.39" r="1.9"/><circle cx="569.74" cy="66.92" r="1.9"/><circle cx="570.38" cy="84.59" r="1.9"/><circle cx="570.88" cy="77.52" r="1.9"/><circle cx="564.2" cy="52.79" r="1.9"/><circle cx="570.38" cy="81.05" r="1.9"/><circle cx="566.02" cy="77.52" r="1.9"/><circle cx="571.7" cy="66.92" r="1.9"/><circle cx="574.3" cy="84.59" r="1.9"/><circle cx="568.74" cy="73.99" r="1.9"/><circle cx="571.09" cy="77.52" r="1.9"/><circle cx="570.63" cy="77.52" r="1.9"/><circle cx="566.01" cy="84.59" r="1.9"/><circle cx="573" cy="77.52" r="1.9"/><circle cx="568.58" cy="52.79" r="1.9"/><circle cx="571.36" cy="77.52" r="1.9"/><circle cx="567.31" cy="73.99" r="1.9"/><circle cx="572.17" cy="84.59" r="1.9"/><circle cx="567.8" cy="66.92" r="1.9"/><circle cx="568.18" cy="77.52" r="1.9"/><circle cx="570.3" cy="70.45" r="1.9"/><circle cx="573.01" cy="52.79" r="1.9"/><circle cx="567.05" cy="81.05" r="1.9"/><circle cx="571.02" cy="84.59" r="1.9"/></g>
<path d="M598.5 35.12V56.32M598.5 70.45V88.12M595.4 35.12H601.6M595.4 88.12H601.6" fill="none" stroke="#3c3c3c" stroke-width="1"/>
<rect x="592.2" y="56.32" width="12.6" height="14.13" fill="#1b9e77" stroke="#3c3c3c" stroke-width="1"/>
<path d="M592.2 63.39H604.8" stroke="#3a3a3a" stroke-width="1.7" fill="none"/>
<path d="M622.2 38.66V59.85M622.2 77.52V84.59M619.1 38.66H625.3M619.1 84.59H625.3" fill="none" stroke="#3c3c3c" stroke-width="1"/>
<rect x="615.9" y="59.85" width="12.6" height="17.66" fill="#d95f02" stroke="#3c3c3c" stroke-width="1"/>
<path d="M615.9 70.45H628.5" stroke="#3a3a3a" stroke-width="1.7" fill="none"/>
<path d="M645.5 22.6C645.53 23.17 645.53 24.82 645.7 26C645.87 27.18 646.15 28.45 646.5 29.7C646.85 30.95 647.23 32.27 647.8 33.5C648.37 34.73 649.22 36.02 649.9 37.1C650.58 38.18 651.05 38.97 651.9 40C652.75 41.03 653.92 42.22 655 43.3C656.08 44.38 657.08 45.32 658.4 46.5C659.72 47.68 661.48 49.32 662.9 50.4C664.32 51.48 665.8 52.13 666.9 53C668 53.87 668.92 54.72 669.5 55.6C670.08 56.48 670.33 57.42 670.4 58.3C670.47 59.18 669.87 60.2 669.9 60.9C669.93 61.6 670.28 61.97 670.6 62.5C670.92 63.03 671.23 63.28 671.8 64.1C672.37 64.92 673.42 66.48 674 67.4C674.58 68.32 675.07 69.07 675.3 69.6C675.53 70.13 675.52 70.23 675.4 70.6C675.28 70.97 675.17 71.37 674.6 71.8C674.03 72.23 673.22 72.58 672 73.2C670.78 73.82 669.38 74.45 667.3 75.5C665.22 76.55 661.95 78.02 659.5 79.5C657.05 80.98 654.23 83.15 652.6 84.4C650.97 85.65 650.52 86.18 649.7 87C648.88 87.82 648.32 88.27 647.7 89.3C647.08 90.33 646.35 91.92 646 93.2C645.65 94.48 645.68 95.87 645.6 97C645.52 98.13 645.52 99.5 645.5 100L645.5 22.6Z" fill="#1b9e77" fill-opacity="0.5" stroke="#222" stroke-width="0.5" stroke-opacity="0.9"/>
<path d="M645.5 22.6C645.52 23.17 645.47 24.82 645.6 26C645.73 27.18 646 28.45 646.3 29.7C646.6 30.95 646.95 32.27 647.4 33.5C647.85 34.73 648.47 36.02 649 37.1C649.53 38.18 649.97 38.97 650.6 40C651.23 41.03 652.05 42.22 652.8 43.3C653.55 44.38 654.25 45.38 655.1 46.5C655.95 47.62 657.07 48.92 657.9 50C658.73 51.08 659.47 51.85 660.1 53C660.73 54.15 661.12 55.58 661.7 56.9C662.28 58.22 662.73 59.58 663.6 60.9C664.47 62.22 665.7 63.5 666.9 64.8C668.1 66.1 669.72 67.52 670.8 68.7C671.88 69.88 672.8 71.07 673.4 71.9C674 72.73 674.17 73.1 674.4 73.7C674.63 74.3 674.83 74.87 674.8 75.5C674.77 76.13 674.63 76.83 674.2 77.5C673.77 78.17 673.67 78.52 672.2 79.5C670.73 80.48 668.18 82.1 665.4 83.4C662.62 84.7 658.28 85.98 655.5 87.3C652.72 88.62 650.23 89.98 648.7 91.3C647.17 92.62 646.8 94.08 646.3 95.2C645.8 96.32 645.83 97.2 645.7 98C645.57 98.8 645.53 99.67 645.5 100L645.5 22.6Z" fill="#d95f02" fill-opacity="0.5" stroke="#222" stroke-width="0.5" stroke-opacity="0.9"/>
<rect x="1.4" y="154.5" width="224.5" height="150" fill="#fff" stroke="#3c3c3c" stroke-width="1.3"/>
<path d="M38 160.5V266.3M33.7 160.5H38M33.7 181.66H38M33.7 202.82H38M33.7 223.98H38M33.7 245.14H38M33.7 266.3H38M51.9 275.4V271.5H111.3V275.4" fill="none" stroke="#adadad" stroke-width="0.65"/>
<text x="30.6" y="163.2" text-anchor="end" class="t">2.0</text>
<text x="30.6" y="184.36" text-anchor="end" class="t">1.5</text>
<text x="30.6" y="205.52" text-anchor="end" class="t">1.0</text>
<text x="30.6" y="226.68" text-anchor="end" class="t">0.5</text>
<text x="30.6" y="247.84" text-anchor="end" class="t">0.0</text>
<text x="30.6" y="269" text-anchor="end" class="t">-0.5</text>
<text x="52.1" y="284.35" text-anchor="middle" class="t">LW_LEFT</text>
<text x="110.8" y="284.35" text-anchor="middle" class="t">LW_RIGHT</text>
<text x="188.45" y="284" textLength="14.7" lengthAdjust="spacingAndGlyphs" class="L">(d)</text>
<path d="M51.1 177.43L105.5 181.66M51.4 181.66L108.7 185.89M53.7 232.44L106.3 232.44M57.4 232.44L107.5 232.44M53.25 232.44L111.3 232.44M56.9 232.44L105.7 228.21M54 232.44L108.2 228.21M47.7 232.44L111.7 228.21M47.4 232.44L109.12 232.44M47.31 228.21L111.3 228.21M51.5 228.21L109.3 236.68M46.51 228.21L109 223.98M46.5 228.21L107 228.21M56.36 228.21L110.7 228.21M57 228.21L105.7 223.98M51.76 228.21L112.3 228.21M49.45 228.21L115.6 228.21M49 228.21L111.67 228.21M47.5 223.98L112.67 228.21M53 223.98L110.2 219.75M57.8 223.98L113.2 228.21M47.5 223.98L114 228.21M57.8 223.98L112.7 219.75M50.5 223.98L108.8 232.44M57.8 223.98L111.76 223.98M57.3 219.75L113.6 232.44M52.9 219.75L112.4 232.44M53 219.75L115.6 228.21M53.78 219.75L105.7 223.98M57.3 219.75L116.2 215.52M46.8 219.75L111.42 223.98M55.75 219.75L111.4 219.75M55.5 219.75L114.21 219.75M56 215.52L111.9 223.98M46.5 215.52L112 228.21M56 215.52L106.5 211.28M49.03 215.52L115.6 228.21M54 215.52L115.2 219.75M51.5 215.52L113.5 215.52M49 215.52L112.14 211.28M49.5 211.28L107.09 211.28M49.02 211.28L111.82 219.75M49.01 211.28L110.2 219.75M55 211.28L106.3 223.98M55.03 211.28L114 219.75M46.5 211.28L110.24 207.05M57 211.28L106.5 211.28M46.5 211.28L108.5 207.05M46.5 211.28L112 211.28M52.5 211.28L109 211.28M54.5 207.05L107.12 211.28M52 207.05L113.6 207.05M57 207.05L108.5 202.82M48.5 207.05L106 207.05M56.53 202.82L114.7 211.28M46.5 202.82L109.07 207.05M50 202.82L111 207.05M56.7 202.82L108.56 207.05M49.9 202.82L106.35 198.59M56.7 202.82L105.5 198.59M56.5 198.59L111.33 207.05M47.7 198.59L115.5 198.59M47.6 194.36L107.49 194.36M56.63 194.36L107.9 194.36M56.53 194.36L115.5 202.82M57.3 194.36L106.78 194.36M53.64 194.36L106.3 194.36M49.6 194.36L107.3 198.59M47.6 194.36L108.44 194.36M53.2 194.36L113.7 194.36M48.5 190.12L106.48 194.36M53.8 190.12L107.65 194.36M47.6 185.89L105.65 198.59M56.1 185.89L116 194.36" fill="none" stroke="#b0b0b0" stroke-width="0.42"/>
<g fill="#1b9e77"><circle cx="51.1" cy="177.43" r="1.9"/><circle cx="51.4" cy="181.66" r="1.9"/><circle cx="47.6" cy="185.89" r="1.9"/><circle cx="56.1" cy="185.89" r="1.9"/><circle cx="48.5" cy="190.12" r="1.9"/><circle cx="53.8" cy="190.12" r="1.9"/><circle cx="47.6" cy="194.36" r="1.9"/><circle cx="49.6" cy="194.36" r="1.9"/><circle cx="53.2" cy="194.36" r="1.9"/><circle cx="57.3" cy="194.36" r="1.9"/><circle cx="47.7" cy="198.59" r="1.9"/><circle cx="56.5" cy="198.59" r="1.9"/><circle cx="46.5" cy="202.82" r="1.9"/><circle cx="50" cy="202.82" r="1.9"/><circle cx="56.7" cy="202.82" r="1.9"/><circle cx="48.5" cy="207.05" r="1.9"/><circle cx="52" cy="207.05" r="1.9"/><circle cx="54.5" cy="207.05" r="1.9"/><circle cx="57" cy="207.05" r="1.9"/><circle cx="46.5" cy="211.28" r="1.9"/><circle cx="49.5" cy="211.28" r="1.9"/><circle cx="52.5" cy="211.28" r="1.9"/><circle cx="55" cy="211.28" r="1.9"/><circle cx="57" cy="211.28" r="1.9"/><circle cx="46.5" cy="215.52" r="1.9"/><circle cx="49" cy="215.52" r="1.9"/><circle cx="51.5" cy="215.52" r="1.9"/><circle cx="54" cy="215.52" r="1.9"/><circle cx="56" cy="215.52" r="1.9"/><circle cx="46.8" cy="219.75" r="1.9"/><circle cx="53" cy="219.75" r="1.9"/><circle cx="55.5" cy="219.75" r="1.9"/><circle cx="57.3" cy="219.75" r="1.9"/><circle cx="47.5" cy="223.98" r="1.9"/><circle cx="50.5" cy="223.98" r="1.9"/><circle cx="53" cy="223.98" r="1.9"/><circle cx="57.8" cy="223.98" r="1.9"/><circle cx="46.5" cy="228.21" r="1.9"/><circle cx="49" cy="228.21" r="1.9"/><circle cx="51.5" cy="228.21" r="1.9"/><circle cx="57" cy="228.21" r="1.9"/><circle cx="47.4" cy="232.44" r="1.9"/><circle cx="53.7" cy="232.44" r="1.9"/><circle cx="57.4" cy="232.44" r="1.9"/><circle cx="57.3" cy="219.75" r="1.9"/><circle cx="56.53" cy="194.36" r="1.9"/><circle cx="47.31" cy="228.21" r="1.9"/><circle cx="57.8" cy="223.98" r="1.9"/><circle cx="56.9" cy="232.44" r="1.9"/><circle cx="56.7" cy="202.82" r="1.9"/><circle cx="55.75" cy="219.75" r="1.9"/><circle cx="49.9" cy="202.82" r="1.9"/><circle cx="56.63" cy="194.36" r="1.9"/><circle cx="47.6" cy="194.36" r="1.9"/><circle cx="56.36" cy="228.21" r="1.9"/><circle cx="52.9" cy="219.75" r="1.9"/><circle cx="53.64" cy="194.36" r="1.9"/><circle cx="53.78" cy="219.75" r="1.9"/><circle cx="56.53" cy="202.82" r="1.9"/><circle cx="57.8" cy="223.98" r="1.9"/><circle cx="47.7" cy="232.44" r="1.9"/><circle cx="49.45" cy="228.21" r="1.9"/><circle cx="47.5" cy="223.98" r="1.9"/><circle cx="56" cy="215.52" r="1.9"/><circle cx="49.03" cy="215.52" r="1.9"/><circle cx="46.5" cy="211.28" r="1.9"/><circle cx="51.76" cy="228.21" r="1.9"/><circle cx="46.51" cy="228.21" r="1.9"/><circle cx="55.03" cy="211.28" r="1.9"/><circle cx="53.25" cy="232.44" r="1.9"/><circle cx="49.02" cy="211.28" r="1.9"/><circle cx="54" cy="232.44" r="1.9"/><circle cx="46.5" cy="211.28" r="1.9"/><circle cx="49.01" cy="211.28" r="1.9"/></g>
<g fill="#d95f02"><circle cx="105.5" cy="181.66" r="1.9"/><circle cx="108.7" cy="185.89" r="1.9"/><circle cx="106.3" cy="194.36" r="1.9"/><circle cx="107.9" cy="194.36" r="1.9"/><circle cx="113.7" cy="194.36" r="1.9"/><circle cx="116" cy="194.36" r="1.9"/><circle cx="105.5" cy="198.59" r="1.9"/><circle cx="107.3" cy="198.59" r="1.9"/><circle cx="115.5" cy="198.59" r="1.9"/><circle cx="108.5" cy="202.82" r="1.9"/><circle cx="115.5" cy="202.82" r="1.9"/><circle cx="106" cy="207.05" r="1.9"/><circle cx="108.5" cy="207.05" r="1.9"/><circle cx="111" cy="207.05" r="1.9"/><circle cx="113.6" cy="207.05" r="1.9"/><circle cx="106.5" cy="211.28" r="1.9"/><circle cx="109" cy="211.28" r="1.9"/><circle cx="112" cy="211.28" r="1.9"/><circle cx="114.7" cy="211.28" r="1.9"/><circle cx="113.5" cy="215.52" r="1.9"/><circle cx="116.2" cy="215.52" r="1.9"/><circle cx="110.2" cy="219.75" r="1.9"/><circle cx="112.7" cy="219.75" r="1.9"/><circle cx="115.2" cy="219.75" r="1.9"/><circle cx="111.4" cy="219.75" r="1.9"/><circle cx="114" cy="219.75" r="1.9"/><circle cx="105.7" cy="223.98" r="1.9"/><circle cx="111.9" cy="223.98" r="1.9"/><circle cx="106.3" cy="223.98" r="1.9"/><circle cx="109" cy="223.98" r="1.9"/><circle cx="105.7" cy="228.21" r="1.9"/><circle cx="108.2" cy="228.21" r="1.9"/><circle cx="110.7" cy="228.21" r="1.9"/><circle cx="113.2" cy="228.21" r="1.9"/><circle cx="115.6" cy="228.21" r="1.9"/><circle cx="107" cy="228.21" r="1.9"/><circle cx="112" cy="228.21" r="1.9"/><circle cx="106.3" cy="232.44" r="1.9"/><circle cx="108.8" cy="232.44" r="1.9"/><circle cx="111.3" cy="232.44" r="1.9"/><circle cx="113.6" cy="232.44" r="1.9"/><circle cx="107.5" cy="232.44" r="1.9"/><circle cx="112.4" cy="232.44" r="1.9"/><circle cx="109.3" cy="236.68" r="1.9"/><circle cx="115.6" cy="228.21" r="1.9"/><circle cx="114" cy="228.21" r="1.9"/><circle cx="105.7" cy="223.98" r="1.9"/><circle cx="105.65" cy="198.59" r="1.9"/><circle cx="109.12" cy="232.44" r="1.9"/><circle cx="107.49" cy="194.36" r="1.9"/><circle cx="108.44" cy="194.36" r="1.9"/><circle cx="108.56" cy="207.05" r="1.9"/><circle cx="112.67" cy="228.21" r="1.9"/><circle cx="106.35" cy="198.59" r="1.9"/><circle cx="107.09" cy="211.28" r="1.9"/><circle cx="111.42" cy="223.98" r="1.9"/><circle cx="107.12" cy="211.28" r="1.9"/><circle cx="110.24" cy="207.05" r="1.9"/><circle cx="115.6" cy="228.21" r="1.9"/><circle cx="107.65" cy="194.36" r="1.9"/><circle cx="110.2" cy="219.75" r="1.9"/><circle cx="111.67" cy="228.21" r="1.9"/><circle cx="111.76" cy="223.98" r="1.9"/><circle cx="106.78" cy="194.36" r="1.9"/><circle cx="111.3" cy="228.21" r="1.9"/><circle cx="111.7" cy="228.21" r="1.9"/><circle cx="114.21" cy="219.75" r="1.9"/><circle cx="112.14" cy="211.28" r="1.9"/><circle cx="111.33" cy="207.05" r="1.9"/><circle cx="106.48" cy="194.36" r="1.9"/><circle cx="111.82" cy="219.75" r="1.9"/><circle cx="106.5" cy="211.28" r="1.9"/><circle cx="109.07" cy="207.05" r="1.9"/><circle cx="112.3" cy="228.21" r="1.9"/></g>
<path d="M140.3 177.43V202.82M140.3 219.75V232.44M137.2 177.43H143.4M137.2 232.44H143.4" fill="none" stroke="#3c3c3c" stroke-width="1"/>
<rect x="134" y="202.82" width="12.6" height="16.93" fill="#1b9e77" stroke="#3c3c3c" stroke-width="1"/>
<path d="M134 211.28H146.6" stroke="#3a3a3a" stroke-width="1.7" fill="none"/>
<path d="M163.8 181.66V207.05M163.8 228.21V236.68M160.7 181.66H166.9M160.7 236.68H166.9" fill="none" stroke="#3c3c3c" stroke-width="1"/>
<rect x="157.5" y="207.05" width="12.6" height="21.16" fill="#d95f02" stroke="#3c3c3c" stroke-width="1"/>
<path d="M157.5 219.75H170.1" stroke="#3a3a3a" stroke-width="1.7" fill="none"/>
<path d="M187.6 163C187.63 163.83 187.67 166.5 187.8 168C187.93 169.5 188.22 170.62 188.4 172C188.58 173.38 188.53 174.97 188.9 176.3C189.27 177.63 189.92 178.63 190.6 180C191.28 181.37 192.22 183.08 193 184.5C193.78 185.92 194.53 187.13 195.3 188.5C196.07 189.87 196.82 191.28 197.6 192.7C198.38 194.12 199.17 195.65 200 197C200.83 198.35 201.57 199.63 202.6 200.8C203.63 201.97 204.87 203.05 206.2 204C207.53 204.95 209.32 205.53 210.6 206.5C211.88 207.47 213.15 208.6 213.9 209.8C214.65 211 215.02 212.67 215.1 213.7C215.18 214.73 214.73 215.35 214.4 216C214.07 216.65 213.97 216.83 213.1 217.6C212.23 218.37 210.33 219.45 209.2 220.6C208.07 221.75 207.6 223.03 206.3 224.5C205 225.97 203.37 227.77 201.4 229.4C199.43 231.03 196.47 232.67 194.5 234.3C192.53 235.93 190.67 237.73 189.6 239.2C188.53 240.67 188.42 241.63 188.1 243.1C187.78 244.57 187.78 246.52 187.7 248C187.62 249.48 187.62 251.33 187.6 252L187.6 163Z" fill="#1b9e77" fill-opacity="0.5" stroke="#222" stroke-width="0.5" stroke-opacity="0.9"/>
<path d="M187.6 163C187.6 164.17 187.55 168.18 187.6 170C187.65 171.82 187.73 172.57 187.9 173.9C188.07 175.23 188.32 176.82 188.6 178C188.88 179.18 189.23 179.92 189.6 181C189.97 182.08 190.3 183.25 190.8 184.5C191.3 185.75 191.93 187.13 192.6 188.5C193.27 189.87 194.03 191.28 194.8 192.7C195.57 194.12 196.43 195.65 197.2 197C197.97 198.35 198.6 199.32 199.4 200.8C200.2 202.28 201.28 204.07 202 205.9C202.72 207.73 203.15 210.28 203.7 211.8C204.25 213.32 204.7 214.03 205.3 215C205.9 215.97 206.45 216.67 207.3 217.6C208.15 218.53 209.35 219.78 210.4 220.6C211.45 221.42 212.63 221.83 213.6 222.5C214.57 223.17 215.62 223.83 216.2 224.6C216.78 225.37 217.05 226.37 217.1 227.1C217.15 227.83 216.83 228.45 216.5 229C216.17 229.55 216.63 229.52 215.1 230.4C213.57 231.28 210.23 233 207.3 234.3C204.37 235.6 200.28 236.88 197.5 238.2C194.72 239.52 192.17 240.88 190.6 242.2C189.03 243.52 188.58 244.97 188.1 246.1C187.62 247.23 187.78 248.02 187.7 249C187.62 249.98 187.62 251.5 187.6 252L187.6 163Z" fill="#d95f02" fill-opacity="0.5" stroke="#222" stroke-width="0.5" stroke-opacity="0.9"/>
<rect x="230.5" y="154.5" width="224.5" height="150" fill="#fff" stroke="#3c3c3c" stroke-width="1.3"/>
<path d="M267.6 160.5V266.3M263.3 160.5H267.6M263.3 181.66H267.6M263.3 202.82H267.6M263.3 223.98H267.6M263.3 245.14H267.6M263.3 266.3H267.6M281.2 275.4V271.5H340.4V275.4" fill="none" stroke="#adadad" stroke-width="0.65"/>
<text x="260.2" y="163.2" text-anchor="end" class="t">2.0</text>
<text x="260.2" y="184.36" text-anchor="end" class="t">1.5</text>
<text x="260.2" y="205.52" text-anchor="end" class="t">1.0</text>
<text x="260.2" y="226.68" text-anchor="end" class="t">0.5</text>
<text x="260.2" y="247.84" text-anchor="end" class="t">0.0</text>
<text x="260.2" y="269" text-anchor="end" class="t">-0.5</text>
<text x="281.2" y="284.35" text-anchor="middle" class="t">TA_RIGHT</text>
<text x="340.4" y="284.35" text-anchor="middle" class="t">TA_LEFT</text>
<text x="412.2" y="284" textLength="14" lengthAdjust="spacingAndGlyphs" class="L">(e)</text>
<path d="M286.9 185.89L343.6 190.12M281.5 236.68L336.31 228.21M279.5 236.68L338.53 223.98M281.36 236.68L338.43 228.21M279.5 236.68L340.5 219.75M283.3 236.68L344.5 236.68M285.1 232.44L341.13 223.98M279.6 232.44L340.5 228.21M275.7 228.21L337.22 219.75M285.45 228.21L339.3 219.75M276.12 228.21L341.76 223.98M278 228.21L339.3 215.52M286.6 228.21L343.9 219.75M280.66 228.21L338.16 232.44M286.47 228.21L341 232.44M281.3 228.21L337.75 232.44M282.6 228.21L338.99 232.44M283.41 228.21L338.5 232.44M281.76 228.21L334.82 211.28M280.3 228.21L339.3 223.98M275.7 228.21L337.02 211.28M281.5 228.21L338 228.21M284.9 228.21L338.2 215.52M277 228.21L343 207.05M279.5 223.98L337 219.75M278 223.98L343.19 211.28M282.6 223.98L335.27 202.82M280.3 223.98L340.1 223.98M283.7 223.98L344 232.44M285.42 223.98L335.7 228.21M286.6 223.98L343.9 215.52M275.7 223.98L343.46 211.28M281.87 223.98L340.4 223.98M284.23 223.98L336.5 198.59M279.2 223.98L345.41 207.05M282.85 223.98L334.7 219.75M286.6 223.98L340.04 223.98M279.44 223.98L344 232.44M284.9 223.98L344.6 215.52M284.87 223.98L343.8 211.28M281.5 219.75L335.7 228.21M279 219.75L345.5 207.05M280.2 215.52L341.3 211.28M277.5 215.52L344 232.44M282.5 215.52L341.6 219.75M280 215.52L342.6 223.98M284.3 215.52L337 215.52M279.86 215.52L344.56 219.75M284.58 211.28L334.7 202.82M281.57 211.28L336 223.98M276.5 211.28L342.2 194.36M281.36 211.28L338.2 223.98M279 211.28L336 232.44M286.5 211.28L336.85 232.44M278.62 211.28L336.7 211.28M284 211.28L338.48 223.98M281.5 211.28L339.26 215.52M277 207.05L345.6 219.75M280.97 207.05L336 223.98M283.5 207.05L342.92 207.05M279 207.05L341.6 215.52M281.5 207.05L342.5 202.82M277.33 207.05L338.27 223.98M277 207.05L336.72 211.28M278.17 207.05L338.82 207.05M275.7 202.82L340.5 202.82M282.3 198.59L334.5 198.59M283.7 198.59L338.7 207.05M282.88 198.59L334.7 211.28M282.58 198.59L334.7 215.52M284.5 198.59L334.9 202.82M282.66 198.59L342.04 211.28M282.56 198.59L338.7 207.05M286.5 198.59L334.77 202.82" fill="none" stroke="#b0b0b0" stroke-width="0.42"/>
<g fill="#1b9e77"><circle cx="286.9" cy="185.89" r="1.9"/><circle cx="282.3" cy="198.59" r="1.9"/><circle cx="284.5" cy="198.59" r="1.9"/><circle cx="286.5" cy="198.59" r="1.9"/><circle cx="275.7" cy="202.82" r="1.9"/><circle cx="277" cy="207.05" r="1.9"/><circle cx="279" cy="207.05" r="1.9"/><circle cx="281.5" cy="207.05" r="1.9"/><circle cx="283.5" cy="207.05" r="1.9"/><circle cx="276.5" cy="211.28" r="1.9"/><circle cx="279" cy="211.28" r="1.9"/><circle cx="281.5" cy="211.28" r="1.9"/><circle cx="284" cy="211.28" r="1.9"/><circle cx="286.5" cy="211.28" r="1.9"/><circle cx="277.5" cy="215.52" r="1.9"/><circle cx="280" cy="215.52" r="1.9"/><circle cx="282.5" cy="215.52" r="1.9"/><circle cx="284.3" cy="215.52" r="1.9"/><circle cx="279" cy="219.75" r="1.9"/><circle cx="281.5" cy="219.75" r="1.9"/><circle cx="275.7" cy="223.98" r="1.9"/><circle cx="278" cy="223.98" r="1.9"/><circle cx="280.3" cy="223.98" r="1.9"/><circle cx="282.6" cy="223.98" r="1.9"/><circle cx="284.9" cy="223.98" r="1.9"/><circle cx="286.6" cy="223.98" r="1.9"/><circle cx="279.2" cy="223.98" r="1.9"/><circle cx="283.7" cy="223.98" r="1.9"/><circle cx="275.7" cy="228.21" r="1.9"/><circle cx="278" cy="228.21" r="1.9"/><circle cx="280.3" cy="228.21" r="1.9"/><circle cx="282.6" cy="228.21" r="1.9"/><circle cx="284.9" cy="228.21" r="1.9"/><circle cx="286.6" cy="228.21" r="1.9"/><circle cx="277" cy="228.21" r="1.9"/><circle cx="281.5" cy="228.21" r="1.9"/><circle cx="279.6" cy="232.44" r="1.9"/><circle cx="285.1" cy="232.44" r="1.9"/><circle cx="279.5" cy="236.68" r="1.9"/><circle cx="281.5" cy="236.68" r="1.9"/><circle cx="283.3" cy="236.68" r="1.9"/><circle cx="279.44" cy="223.98" r="1.9"/><circle cx="281.76" cy="228.21" r="1.9"/><circle cx="277.33" cy="207.05" r="1.9"/><circle cx="281.3" cy="228.21" r="1.9"/><circle cx="281.36" cy="236.68" r="1.9"/><circle cx="286.6" cy="223.98" r="1.9"/><circle cx="284.58" cy="211.28" r="1.9"/><circle cx="285.45" cy="228.21" r="1.9"/><circle cx="282.88" cy="198.59" r="1.9"/><circle cx="282.58" cy="198.59" r="1.9"/><circle cx="282.56" cy="198.59" r="1.9"/><circle cx="282.66" cy="198.59" r="1.9"/><circle cx="279.86" cy="215.52" r="1.9"/><circle cx="278.62" cy="211.28" r="1.9"/><circle cx="279.5" cy="223.98" r="1.9"/><circle cx="283.41" cy="228.21" r="1.9"/><circle cx="281.36" cy="211.28" r="1.9"/><circle cx="275.7" cy="228.21" r="1.9"/><circle cx="286.47" cy="228.21" r="1.9"/><circle cx="285.42" cy="223.98" r="1.9"/><circle cx="276.12" cy="228.21" r="1.9"/><circle cx="280.66" cy="228.21" r="1.9"/><circle cx="280.2" cy="215.52" r="1.9"/><circle cx="281.57" cy="211.28" r="1.9"/><circle cx="284.87" cy="223.98" r="1.9"/><circle cx="284.23" cy="223.98" r="1.9"/><circle cx="279.5" cy="236.68" r="1.9"/><circle cx="280.97" cy="207.05" r="1.9"/><circle cx="283.7" cy="198.59" r="1.9"/><circle cx="278.17" cy="207.05" r="1.9"/><circle cx="282.85" cy="223.98" r="1.9"/><circle cx="281.87" cy="223.98" r="1.9"/><circle cx="277" cy="207.05" r="1.9"/></g>
<g fill="#d95f02"><circle cx="343.6" cy="190.12" r="1.9"/><circle cx="342.2" cy="194.36" r="1.9"/><circle cx="334.5" cy="198.59" r="1.9"/><circle cx="336.5" cy="198.59" r="1.9"/><circle cx="334.7" cy="202.82" r="1.9"/><circle cx="340.5" cy="202.82" r="1.9"/><circle cx="342.5" cy="202.82" r="1.9"/><circle cx="338.7" cy="207.05" r="1.9"/><circle cx="343" cy="207.05" r="1.9"/><circle cx="345.5" cy="207.05" r="1.9"/><circle cx="334.7" cy="211.28" r="1.9"/><circle cx="336.7" cy="211.28" r="1.9"/><circle cx="341.3" cy="211.28" r="1.9"/><circle cx="343.8" cy="211.28" r="1.9"/><circle cx="334.7" cy="215.52" r="1.9"/><circle cx="337" cy="215.52" r="1.9"/><circle cx="339.3" cy="215.52" r="1.9"/><circle cx="341.6" cy="215.52" r="1.9"/><circle cx="343.9" cy="215.52" r="1.9"/><circle cx="344.6" cy="215.52" r="1.9"/><circle cx="338.2" cy="215.52" r="1.9"/><circle cx="334.7" cy="219.75" r="1.9"/><circle cx="337" cy="219.75" r="1.9"/><circle cx="339.3" cy="219.75" r="1.9"/><circle cx="341.6" cy="219.75" r="1.9"/><circle cx="343.9" cy="219.75" r="1.9"/><circle cx="345.6" cy="219.75" r="1.9"/><circle cx="340.5" cy="219.75" r="1.9"/><circle cx="336" cy="223.98" r="1.9"/><circle cx="338.2" cy="223.98" r="1.9"/><circle cx="340.4" cy="223.98" r="1.9"/><circle cx="342.6" cy="223.98" r="1.9"/><circle cx="339.3" cy="223.98" r="1.9"/><circle cx="335.7" cy="228.21" r="1.9"/><circle cx="338" cy="228.21" r="1.9"/><circle cx="340.5" cy="228.21" r="1.9"/><circle cx="336" cy="232.44" r="1.9"/><circle cx="338.5" cy="232.44" r="1.9"/><circle cx="341" cy="232.44" r="1.9"/><circle cx="344" cy="232.44" r="1.9"/><circle cx="344.5" cy="236.68" r="1.9"/><circle cx="344.56" cy="219.75" r="1.9"/><circle cx="343.19" cy="211.28" r="1.9"/><circle cx="338.48" cy="223.98" r="1.9"/><circle cx="343.46" cy="211.28" r="1.9"/><circle cx="335.27" cy="202.82" r="1.9"/><circle cx="334.77" cy="202.82" r="1.9"/><circle cx="338.43" cy="228.21" r="1.9"/><circle cx="342.04" cy="211.28" r="1.9"/><circle cx="338.27" cy="223.98" r="1.9"/><circle cx="342.92" cy="207.05" r="1.9"/><circle cx="334.82" cy="211.28" r="1.9"/><circle cx="338.53" cy="223.98" r="1.9"/><circle cx="345.41" cy="207.05" r="1.9"/><circle cx="338.99" cy="232.44" r="1.9"/><circle cx="344" cy="232.44" r="1.9"/><circle cx="336.85" cy="232.44" r="1.9"/><circle cx="338.16" cy="232.44" r="1.9"/><circle cx="341.13" cy="223.98" r="1.9"/><circle cx="335.7" cy="228.21" r="1.9"/><circle cx="336.31" cy="228.21" r="1.9"/><circle cx="337.22" cy="219.75" r="1.9"/><circle cx="340.04" cy="223.98" r="1.9"/><circle cx="338.82" cy="207.05" r="1.9"/><circle cx="337.02" cy="211.28" r="1.9"/><circle cx="340.1" cy="223.98" r="1.9"/><circle cx="339.26" cy="215.52" r="1.9"/><circle cx="334.9" cy="202.82" r="1.9"/><circle cx="337.75" cy="232.44" r="1.9"/><circle cx="336" cy="223.98" r="1.9"/><circle cx="341.76" cy="223.98" r="1.9"/><circle cx="344" cy="232.44" r="1.9"/><circle cx="336.72" cy="211.28" r="1.9"/><circle cx="338.7" cy="207.05" r="1.9"/></g>
<path d="M369.5 185.89V211.28M369.5 228.21V236.68M366.4 185.89H372.6M366.4 236.68H372.6" fill="none" stroke="#3c3c3c" stroke-width="1"/>
<rect x="363.2" y="211.28" width="12.6" height="16.93" fill="#1b9e77" stroke="#3c3c3c" stroke-width="1"/>
<path d="M363.2 223.98H375.8" stroke="#3a3a3a" stroke-width="1.7" fill="none"/>
<path d="M393 194.36V211.28M393 223.98V236.68M389.9 194.36H396.1M389.9 236.68H396.1" fill="none" stroke="#3c3c3c" stroke-width="1"/>
<rect x="386.7" y="211.28" width="12.6" height="12.7" fill="#d95f02" stroke="#3c3c3c" stroke-width="1"/>
<path d="M386.7 219.75H399.3" stroke="#3a3a3a" stroke-width="1.7" fill="none"/>
<path d="M416.3 173.2C416.32 174.17 416.33 177.35 416.4 179C416.47 180.65 416.57 181.85 416.7 183.1C416.83 184.35 417.02 185.42 417.2 186.5C417.38 187.58 417.52 188.52 417.8 189.6C418.08 190.68 418.5 191.92 418.9 193C419.3 194.08 419.62 195.02 420.2 196.1C420.78 197.18 421.6 198.4 422.4 199.5C423.2 200.6 424.1 201.62 425 202.7C425.9 203.78 427 204.95 427.8 206C428.6 207.05 429.37 208.18 429.8 209C430.23 209.82 430.27 210.15 430.4 210.9C430.53 211.65 430.43 212.68 430.6 213.5C430.77 214.32 430.62 214.77 431.4 215.8C432.18 216.83 433.83 218.62 435.3 219.7C436.77 220.78 438.62 221.67 440.2 222.3C441.78 222.93 443.72 223.12 444.8 223.5C445.88 223.88 446.53 224.15 446.7 224.6C446.87 225.05 446.55 225.55 445.8 226.2C445.05 226.85 444.6 227.45 442.2 228.5C439.8 229.55 434.52 231.18 431.4 232.5C428.28 233.82 425.63 235.1 423.5 236.4C421.37 237.7 419.7 239 418.6 240.3C417.5 241.6 417.27 243.08 416.9 244.2C416.53 245.32 416.5 246.2 416.4 247C416.3 247.8 416.32 248.67 416.3 249L416.3 173.2Z" fill="#1b9e77" fill-opacity="0.5" stroke="#222" stroke-width="0.5" stroke-opacity="0.9"/>
<path d="M416.3 173.2C416.33 174.17 416.4 177.35 416.5 179C416.6 180.65 416.75 181.85 416.9 183.1C417.05 184.35 417.2 185.42 417.4 186.5C417.6 187.58 417.8 188.52 418.1 189.6C418.4 190.68 418.8 191.92 419.2 193C419.6 194.08 419.92 195.02 420.5 196.1C421.08 197.18 421.88 198.4 422.7 199.5C423.52 200.6 424.45 201.62 425.4 202.7C426.35 203.78 427.47 205.03 428.4 206C429.33 206.97 429.98 207.75 431 208.5C432.02 209.25 433.4 209.87 434.5 210.5C435.6 211.13 436.65 211.72 437.6 212.3C438.55 212.88 439.2 213.35 440.2 214C441.2 214.65 442.85 215.57 443.6 216.2C444.35 216.83 444.53 217.25 444.7 217.8C444.87 218.35 444.7 218.98 444.6 219.5C444.5 220.02 444.83 220.43 444.1 220.9C443.37 221.37 441.47 221.78 440.2 222.3C438.93 222.82 437.65 223.28 436.5 224C435.35 224.72 434.48 225.52 433.3 226.6C432.12 227.68 431.03 229.2 429.4 230.5C427.77 231.8 425.2 233.1 423.5 234.4C421.8 235.7 420.27 237.15 419.2 238.3C418.13 239.45 417.57 240.18 417.1 241.3C416.63 242.42 416.53 243.72 416.4 245C416.27 246.28 416.32 248.33 416.3 249L416.3 173.2Z" fill="#d95f02" fill-opacity="0.5" stroke="#222" stroke-width="0.5" stroke-opacity="0.9"/>
<rect x="459.4" y="154.5" width="224.65" height="150" fill="#fff" stroke="#3c3c3c" stroke-width="1.3"/>
<path d="M493.5 160.54V266.3M489.2 160.54H493.5M489.2 173.76H493.5M489.2 186.98H493.5M489.2 200.2H493.5M489.2 213.42H493.5M489.2 226.64H493.5M489.2 239.86H493.5M489.2 253.08H493.5M489.2 266.3H493.5M507.7 275.4V271.5H567.5V275.4" fill="none" stroke="#adadad" stroke-width="0.65"/>
<text x="486.1" y="163.24" text-anchor="end" class="t">2.0</text>
<text x="486.1" y="176.46" text-anchor="end" class="t">1.8</text>
<text x="486.1" y="189.68" text-anchor="end" class="t">1.6</text>
<text x="486.1" y="202.9" text-anchor="end" class="t">1.4</text>
<text x="486.1" y="216.12" text-anchor="end" class="t">1.2</text>
<text x="486.1" y="229.34" text-anchor="end" class="t">1.0</text>
<text x="486.1" y="242.56" text-anchor="end" class="t">0.8</text>
<text x="486.1" y="255.78" text-anchor="end" class="t">0.6</text>
<text x="486.1" y="269" text-anchor="end" class="t">0.4</text>
<text x="507.7" y="284.35" text-anchor="middle" class="t">AN_LEFT</text>
<text x="567.5" y="284.35" text-anchor="middle" class="t">AN_RIGHT</text>
<text x="648.55" y="284.1" textLength="11.1" lengthAdjust="spacingAndGlyphs" class="L">(f)</text>
<path d="M513.5 246.47L563.3 220.03M511.6 239.86L563 226.64M512.9 180.37L564.8 193.59M505.9 180.37L563 206.81M510 200.2L567.6 180.37M513.2 213.42L567.6 239.86M506.8 233.25L565.3 226.64M508.5 233.25L567.64 200.2M507.5 226.64L568.5 200.2M510.3 226.64L574.4 206.81M506.78 226.64L567.63 226.64M505.3 226.64L567.99 200.2M505.3 226.64L567.6 206.81M508.5 220.03L565.07 200.2M502.96 220.03L564.99 206.81M509.37 220.03L573.51 206.81M502.5 220.03L567.08 193.59M507.61 220.03L562 213.42M509.23 220.03L565.8 213.42M510.73 220.03L562 233.25M502.99 220.03L570.75 233.25M507.7 220.03L572.8 226.64M508.15 220.03L572.8 239.86M503.07 220.03L565.3 206.81M508.1 220.03L564.66 226.64M507.74 220.03L570 226.64M508.96 220.03L565.81 220.03M511 220.03L573 200.2M513.3 220.03L563 200.2M505.77 213.42L567.6 226.64M511.24 213.42L574.4 206.81M505 213.42L571.1 233.25M507.5 213.42L567.58 206.81M510.79 213.42L565.36 220.03M511.6 213.42L569.65 206.81M504.94 213.42L567.3 233.25M510.61 213.42L572.26 206.81M510 213.42L570 206.81M513.2 213.42L565.5 220.03M502.6 213.42L563 206.81M502.95 213.42L574.4 206.81M503.7 210.12L565.3 200.2M502.93 206.81L569.17 206.81M502.6 206.81L571.5 213.42M509.47 206.81L572.89 213.42M512.7 206.81L571.21 200.2M512.62 206.81L567.7 220.03M505 206.81L562.22 233.25M506.3 206.81L569.5 193.59M507.5 206.81L572.8 206.81M512.7 206.81L573.34 206.81M506.83 206.81L562.6 213.42M507.9 206.81L564.66 226.64M510 206.81L562 213.42M503 200.2L567.7 220.03M503 200.2L564.2 213.42M508 200.2L570.55 200.2M507.91 200.2L563.82 226.64M510 200.2L573.52 206.81M505.5 200.2L570.8 200.2M508.86 200.2L565 186.98M509.73 200.2L570.61 226.64M507.96 200.2L572.58 226.64M507.79 200.2L573.88 206.81M504.86 200.2L562 213.42M505.25 193.59L567.2 193.59M507.2 193.59L563.83 206.81M504.8 193.59L573.5 213.42M511.2 193.59L573.31 206.81M505.03 193.59L570.9 186.98M506.51 193.59L573.53 206.81M513.6 193.59L569.39 193.59M504.8 193.59L563 200.2M509.9 186.98L568.93 193.59" fill="none" stroke="#b0b0b0" stroke-width="0.42"/>
<g fill="#1b9e77"><circle cx="505.9" cy="180.37" r="1.9"/><circle cx="512.9" cy="180.37" r="1.9"/><circle cx="509.9" cy="186.98" r="1.9"/><circle cx="504.8" cy="193.59" r="1.9"/><circle cx="507.2" cy="193.59" r="1.9"/><circle cx="511.2" cy="193.59" r="1.9"/><circle cx="513.6" cy="193.59" r="1.9"/><circle cx="503" cy="200.2" r="1.9"/><circle cx="505.5" cy="200.2" r="1.9"/><circle cx="508" cy="200.2" r="1.9"/><circle cx="510" cy="200.2" r="1.9"/><circle cx="502.6" cy="206.81" r="1.9"/><circle cx="505" cy="206.81" r="1.9"/><circle cx="507.5" cy="206.81" r="1.9"/><circle cx="510" cy="206.81" r="1.9"/><circle cx="512.7" cy="206.81" r="1.9"/><circle cx="506.3" cy="206.81" r="1.9"/><circle cx="502.6" cy="213.42" r="1.9"/><circle cx="505" cy="213.42" r="1.9"/><circle cx="507.5" cy="213.42" r="1.9"/><circle cx="510" cy="213.42" r="1.9"/><circle cx="513.2" cy="213.42" r="1.9"/><circle cx="511.6" cy="213.42" r="1.9"/><circle cx="503.7" cy="210.12" r="1.9"/><circle cx="502.5" cy="220.03" r="1.9"/><circle cx="508.5" cy="220.03" r="1.9"/><circle cx="511" cy="220.03" r="1.9"/><circle cx="513.3" cy="220.03" r="1.9"/><circle cx="505.3" cy="226.64" r="1.9"/><circle cx="507.5" cy="226.64" r="1.9"/><circle cx="510.3" cy="226.64" r="1.9"/><circle cx="506.8" cy="233.25" r="1.9"/><circle cx="508.5" cy="233.25" r="1.9"/><circle cx="511.6" cy="239.86" r="1.9"/><circle cx="513.5" cy="246.47" r="1.9"/><circle cx="507.96" cy="200.2" r="1.9"/><circle cx="506.83" cy="206.81" r="1.9"/><circle cx="508.86" cy="200.2" r="1.9"/><circle cx="511.24" cy="213.42" r="1.9"/><circle cx="504.86" cy="200.2" r="1.9"/><circle cx="507.61" cy="220.03" r="1.9"/><circle cx="507.9" cy="206.81" r="1.9"/><circle cx="510" cy="200.2" r="1.9"/><circle cx="506.51" cy="193.59" r="1.9"/><circle cx="505.77" cy="213.42" r="1.9"/><circle cx="502.96" cy="220.03" r="1.9"/><circle cx="507.74" cy="220.03" r="1.9"/><circle cx="513.2" cy="213.42" r="1.9"/><circle cx="502.99" cy="220.03" r="1.9"/><circle cx="508.15" cy="220.03" r="1.9"/><circle cx="503" cy="200.2" r="1.9"/><circle cx="506.78" cy="226.64" r="1.9"/><circle cx="509.37" cy="220.03" r="1.9"/><circle cx="502.93" cy="206.81" r="1.9"/><circle cx="503.07" cy="220.03" r="1.9"/><circle cx="512.7" cy="206.81" r="1.9"/><circle cx="505.25" cy="193.59" r="1.9"/><circle cx="510.73" cy="220.03" r="1.9"/><circle cx="507.91" cy="200.2" r="1.9"/><circle cx="509.73" cy="200.2" r="1.9"/><circle cx="505.03" cy="193.59" r="1.9"/><circle cx="509.23" cy="220.03" r="1.9"/><circle cx="504.8" cy="193.59" r="1.9"/><circle cx="505.3" cy="226.64" r="1.9"/><circle cx="508.96" cy="220.03" r="1.9"/><circle cx="512.62" cy="206.81" r="1.9"/><circle cx="509.47" cy="206.81" r="1.9"/><circle cx="508.1" cy="220.03" r="1.9"/><circle cx="507.7" cy="220.03" r="1.9"/><circle cx="502.95" cy="213.42" r="1.9"/><circle cx="507.79" cy="200.2" r="1.9"/><circle cx="510.61" cy="213.42" r="1.9"/><circle cx="510.79" cy="213.42" r="1.9"/><circle cx="504.94" cy="213.42" r="1.9"/></g>
<g fill="#d95f02"><circle cx="567.6" cy="180.37" r="1.9"/><circle cx="565" cy="186.98" r="1.9"/><circle cx="570.9" cy="186.98" r="1.9"/><circle cx="564.8" cy="193.59" r="1.9"/><circle cx="567.2" cy="193.59" r="1.9"/><circle cx="569.5" cy="193.59" r="1.9"/><circle cx="563" cy="200.2" r="1.9"/><circle cx="565.3" cy="200.2" r="1.9"/><circle cx="568.5" cy="200.2" r="1.9"/><circle cx="570.8" cy="200.2" r="1.9"/><circle cx="573" cy="200.2" r="1.9"/><circle cx="563" cy="206.81" r="1.9"/><circle cx="565.3" cy="206.81" r="1.9"/><circle cx="567.6" cy="206.81" r="1.9"/><circle cx="570" cy="206.81" r="1.9"/><circle cx="572.8" cy="206.81" r="1.9"/><circle cx="574.4" cy="206.81" r="1.9"/><circle cx="562" cy="213.42" r="1.9"/><circle cx="564.2" cy="213.42" r="1.9"/><circle cx="565.8" cy="213.42" r="1.9"/><circle cx="571.5" cy="213.42" r="1.9"/><circle cx="573.5" cy="213.42" r="1.9"/><circle cx="563.3" cy="220.03" r="1.9"/><circle cx="565.5" cy="220.03" r="1.9"/><circle cx="567.7" cy="220.03" r="1.9"/><circle cx="563" cy="226.64" r="1.9"/><circle cx="565.3" cy="226.64" r="1.9"/><circle cx="567.6" cy="226.64" r="1.9"/><circle cx="570" cy="226.64" r="1.9"/><circle cx="572.8" cy="226.64" r="1.9"/><circle cx="562" cy="233.25" r="1.9"/><circle cx="567.3" cy="233.25" r="1.9"/><circle cx="571.1" cy="233.25" r="1.9"/><circle cx="567.6" cy="239.86" r="1.9"/><circle cx="572.8" cy="239.86" r="1.9"/><circle cx="567.63" cy="226.64" r="1.9"/><circle cx="564.66" cy="226.64" r="1.9"/><circle cx="568.93" cy="193.59" r="1.9"/><circle cx="567.58" cy="206.81" r="1.9"/><circle cx="567.99" cy="200.2" r="1.9"/><circle cx="567.64" cy="200.2" r="1.9"/><circle cx="572.89" cy="213.42" r="1.9"/><circle cx="574.4" cy="206.81" r="1.9"/><circle cx="564.99" cy="206.81" r="1.9"/><circle cx="567.08" cy="193.59" r="1.9"/><circle cx="563" cy="206.81" r="1.9"/><circle cx="563" cy="200.2" r="1.9"/><circle cx="569.17" cy="206.81" r="1.9"/><circle cx="574.4" cy="206.81" r="1.9"/><circle cx="569.65" cy="206.81" r="1.9"/><circle cx="565.36" cy="220.03" r="1.9"/><circle cx="572.26" cy="206.81" r="1.9"/><circle cx="573.52" cy="206.81" r="1.9"/><circle cx="569.39" cy="193.59" r="1.9"/><circle cx="567.7" cy="220.03" r="1.9"/><circle cx="570.75" cy="233.25" r="1.9"/><circle cx="562" cy="213.42" r="1.9"/><circle cx="570.61" cy="226.64" r="1.9"/><circle cx="573.51" cy="206.81" r="1.9"/><circle cx="562" cy="213.42" r="1.9"/><circle cx="570.55" cy="200.2" r="1.9"/><circle cx="562.22" cy="233.25" r="1.9"/><circle cx="562.6" cy="213.42" r="1.9"/><circle cx="573.34" cy="206.81" r="1.9"/><circle cx="573.88" cy="206.81" r="1.9"/><circle cx="571.21" cy="200.2" r="1.9"/><circle cx="563.82" cy="226.64" r="1.9"/><circle cx="573.53" cy="206.81" r="1.9"/><circle cx="565.81" cy="220.03" r="1.9"/><circle cx="563.83" cy="206.81" r="1.9"/><circle cx="564.66" cy="226.64" r="1.9"/><circle cx="573.31" cy="206.81" r="1.9"/><circle cx="565.07" cy="200.2" r="1.9"/><circle cx="572.58" cy="226.64" r="1.9"/></g>
<path d="M597.4 186.98V206.81M597.4 220.03V233.25M594.3 186.98H600.5M594.3 233.25H600.5" fill="none" stroke="#3c3c3c" stroke-width="1"/>
<rect x="591.1" y="206.81" width="12.6" height="13.22" fill="#1b9e77" stroke="#3c3c3c" stroke-width="1"/>
<path d="M591.1 213.42H603.7" stroke="#3a3a3a" stroke-width="1.7" fill="none"/>
<path d="M621.5 180.37V200.2M621.5 216.73V239.86M618.4 180.37H624.6M618.4 239.86H624.6" fill="none" stroke="#3c3c3c" stroke-width="1"/>
<rect x="615.2" y="200.2" width="12.6" height="16.52" fill="#d95f02" stroke="#3c3c3c" stroke-width="1"/>
<path d="M615.2 213.42H627.8" stroke="#3a3a3a" stroke-width="1.7" fill="none"/>
<path d="M645 165.9C645.03 166.58 645.08 168.73 645.2 170C645.32 171.27 645.52 172.5 645.7 173.5C645.88 174.5 646.07 175.13 646.3 176C646.53 176.87 646.85 177.82 647.1 178.7C647.35 179.58 647.55 180.43 647.8 181.3C648.05 182.17 648.23 182.95 648.6 183.9C648.97 184.85 649.32 186 650 187C650.68 188 651.72 189 652.7 189.9C653.68 190.8 654.8 191.58 655.9 192.4C657 193.22 658.13 193.98 659.3 194.8C660.47 195.62 661.75 196.48 662.9 197.3C664.05 198.12 665.28 198.95 666.2 199.7C667.12 200.45 667.82 201.15 668.4 201.8C668.98 202.45 669.33 203.13 669.7 203.6C670.07 204.07 670.23 204.2 670.6 204.6C670.97 205 671.5 205.52 671.9 206C672.3 206.48 672.58 206.92 673 207.5C673.42 208.08 674.07 208.83 674.4 209.5C674.73 210.17 674.92 210.83 675 211.5C675.08 212.17 675.18 212.7 674.9 213.5C674.62 214.3 673.95 215.55 673.3 216.3C672.65 217.05 671.87 217.45 671 218C670.13 218.55 669.57 218.9 668.1 219.6C666.63 220.3 663.83 221.22 662.2 222.2C660.57 223.18 659.28 224.3 658.3 225.5C657.32 226.7 657.07 228.1 656.3 229.4C655.53 230.7 654.57 232 653.7 233.3C652.83 234.6 651.95 236 651.1 237.2C650.25 238.4 649.32 239.37 648.6 240.5C647.88 241.63 647.3 242.83 646.8 244C646.3 245.17 645.88 246.42 645.6 247.5C645.32 248.58 645.2 249.58 645.1 250.5C645 251.42 645.02 252.58 645 253L645 165.9Z" fill="#1b9e77" fill-opacity="0.5" stroke="#222" stroke-width="0.5" stroke-opacity="0.9"/>
<path d="M645 165.9C645.05 166.58 645.15 168.73 645.3 170C645.45 171.27 645.65 172.5 645.9 173.5C646.15 174.5 646.43 175.13 646.8 176C647.17 176.87 647.65 177.82 648.1 178.7C648.55 179.58 649 180.43 649.5 181.3C650 182.17 650.5 183.03 651.1 183.9C651.7 184.77 652.22 185.5 653.1 186.5C653.98 187.5 655.33 188.92 656.4 189.9C657.47 190.88 658.45 191.58 659.5 192.4C660.55 193.22 661.72 194.15 662.7 194.8C663.68 195.45 664.5 195.82 665.4 196.3C666.3 196.78 667.32 197.13 668.1 197.7C668.88 198.27 669.67 199.12 670.1 199.7C670.53 200.28 670.58 200.72 670.7 201.2C670.82 201.68 670.82 202.03 670.8 202.6C670.78 203.17 670.63 203.93 670.6 204.6C670.57 205.27 670.5 205.95 670.6 206.6C670.7 207.25 671 207.85 671.2 208.5C671.4 209.15 671.73 209.83 671.8 210.5C671.87 211.17 671.78 211.85 671.6 212.5C671.42 213.15 671.5 213.65 670.7 214.4C669.9 215.15 668.32 216.13 666.8 217C665.28 217.87 663.02 218.73 661.6 219.6C660.18 220.47 659.12 221.22 658.3 222.2C657.48 223.18 657.18 224.3 656.7 225.5C656.22 226.7 656 228.1 655.4 229.4C654.8 230.7 653.92 232 653.1 233.3C652.28 234.6 651.32 236 650.5 237.2C649.68 238.4 648.87 239.37 648.2 240.5C647.53 241.63 646.97 242.83 646.5 244C646.03 245.17 645.65 246.43 645.4 247.5C645.15 248.57 645.07 249.92 645 250.4L645 165.9Z" fill="#d95f02" fill-opacity="0.5" stroke="#222" stroke-width="0.5" stroke-opacity="0.9"/>
</svg></body></html>
